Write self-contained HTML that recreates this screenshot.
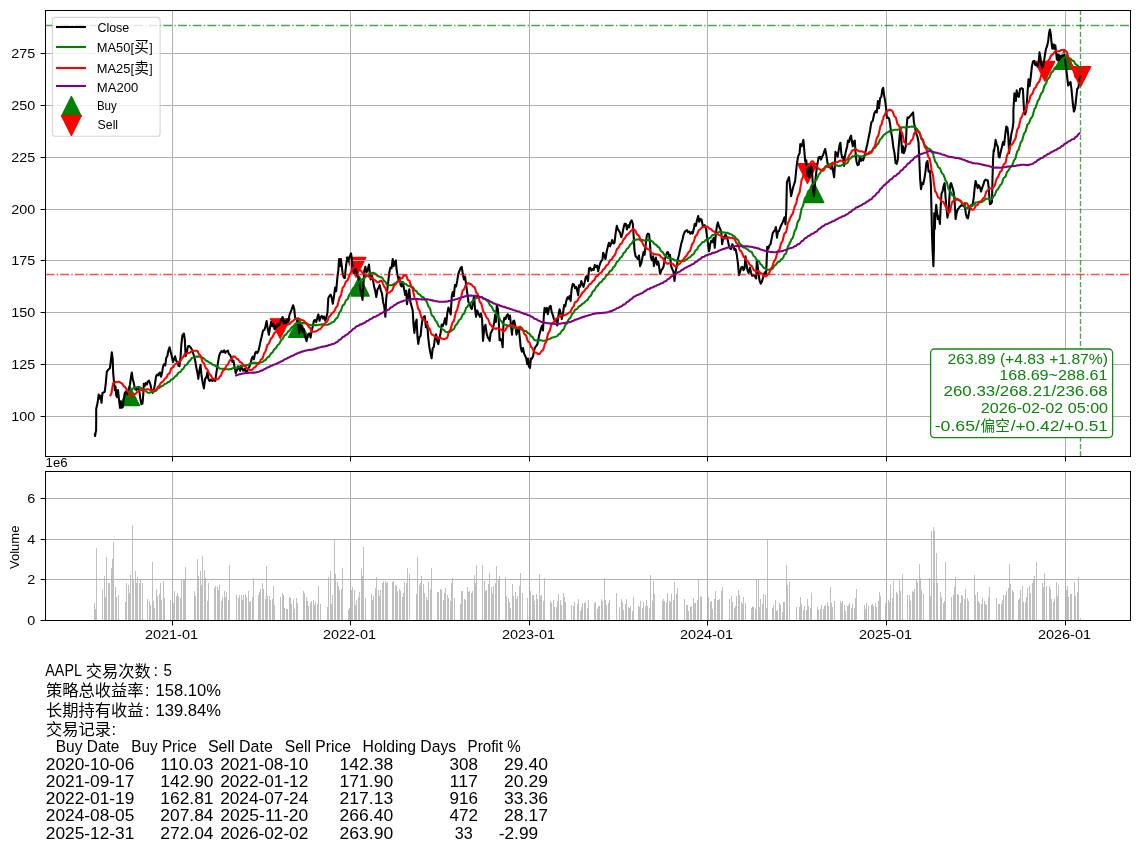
<!DOCTYPE html>
<html><head><meta charset="utf-8"><title>AAPL MA strategy</title>
<style>html,body{margin:0;padding:0;background:#fff}body{width:1139px;height:852px;overflow:hidden;font-family:'Liberation Sans', 'Noto Sans CJK SC', sans-serif}svg text{font-family:'Liberation Sans', 'Noto Sans CJK SC', sans-serif}</style>
</head><body>
<svg width="1139" height="852" viewBox="0 0 1139 852" style="will-change:transform;display:block;font-family:'Liberation Sans', 'Noto Sans CJK SC', sans-serif">
<rect width="1139" height="852" fill="#fff"/>
<g id="markers">
<path d="M129.70 385.96 L119.88 405.60 L139.52 405.60Z" fill="#008000" stroke="#008000" stroke-width="1.39" stroke-linejoin="round"/>
<path d="M298.45 317.75 L288.63 337.39 L308.27 337.39Z" fill="#008000" stroke="#008000" stroke-width="1.39" stroke-linejoin="round"/>
<path d="M359.42 276.42 L349.60 296.06 L369.24 296.06Z" fill="#008000" stroke="#008000" stroke-width="1.39" stroke-linejoin="round"/>
<path d="M813.97 182.97 L804.15 202.61 L823.79 202.61Z" fill="#008000" stroke="#008000" stroke-width="1.39" stroke-linejoin="round"/>
<path d="M1064.64 49.73 L1054.82 69.37 L1074.46 69.37Z" fill="#008000" stroke="#008000" stroke-width="1.39" stroke-linejoin="round"/>
<path d="M270.43 318.82 L290.07 318.82 L280.25 338.46Z" fill="#ff0000" stroke="#ff0000" stroke-width="1.39" stroke-linejoin="round"/>
<path d="M346.18 257.56 L365.82 257.56 L356.00 277.20Z" fill="#ff0000" stroke="#ff0000" stroke-width="1.39" stroke-linejoin="round"/>
<path d="M797.68 163.69 L817.32 163.69 L807.50 183.33Z" fill="#ff0000" stroke="#ff0000" stroke-width="1.39" stroke-linejoin="round"/>
<path d="M1035.08 61.43 L1054.72 61.43 L1044.90 81.07Z" fill="#ff0000" stroke="#ff0000" stroke-width="1.39" stroke-linejoin="round"/>
<path d="M1071.08 66.62 L1090.72 66.62 L1080.90 86.26Z" fill="#ff0000" stroke="#ff0000" stroke-width="1.39" stroke-linejoin="round"/>
</g>
<g fill="#b0b0b0" shape-rendering="crispEdges">
<rect x="172" y="11" width="1" height="445"/>
<rect x="350" y="11" width="1" height="445"/>
<rect x="529" y="11" width="1" height="445"/>
<rect x="707" y="11" width="1" height="445"/>
<rect x="886" y="11" width="1" height="445"/>
<rect x="1065" y="11" width="1" height="445"/>
<rect x="46" y="53" width="1084" height="1"/>
<rect x="46" y="105" width="1084" height="1"/>
<rect x="46" y="157" width="1084" height="1"/>
<rect x="46" y="209" width="1084" height="1"/>
<rect x="46" y="260" width="1084" height="1"/>
<rect x="46" y="312" width="1084" height="1"/>
<rect x="46" y="364" width="1084" height="1"/>
<rect x="46" y="416" width="1084" height="1"/>
</g>
<g fill="#bfbfbf" shape-rendering="crispEdges">
<rect x="94" y="603" width="1" height="17"/>
<rect x="95" y="609" width="1" height="11"/>
<rect x="96" y="548" width="1" height="72"/>
<rect x="102" y="590" width="1" height="30"/>
<rect x="104" y="576" width="1" height="44"/>
<rect x="105" y="597" width="1" height="23"/>
<rect x="106" y="557" width="1" height="63"/>
<rect x="108" y="583" width="1" height="37"/>
<rect x="109" y="583" width="1" height="37"/>
<rect x="111" y="568" width="1" height="52"/>
<rect x="112" y="559" width="1" height="61"/>
<rect x="113" y="542" width="1" height="78"/>
<rect x="115" y="587" width="1" height="33"/>
<rect x="116" y="597" width="1" height="23"/>
<rect x="118" y="595" width="1" height="25"/>
<rect x="125" y="602" width="1" height="18"/>
<rect x="126" y="583" width="1" height="37"/>
<rect x="128" y="585" width="1" height="35"/>
<rect x="129" y="593" width="1" height="27"/>
<rect x="130" y="575" width="1" height="45"/>
<rect x="132" y="525" width="1" height="95"/>
<rect x="133" y="580" width="1" height="40"/>
<rect x="135" y="571" width="1" height="49"/>
<rect x="136" y="583" width="1" height="37"/>
<rect x="137" y="577" width="1" height="43"/>
<rect x="139" y="583" width="1" height="37"/>
<rect x="140" y="580" width="1" height="40"/>
<rect x="142" y="583" width="1" height="37"/>
<rect x="147" y="599" width="1" height="21"/>
<rect x="149" y="601" width="1" height="19"/>
<rect x="150" y="605" width="1" height="15"/>
<rect x="152" y="562" width="1" height="58"/>
<rect x="153" y="601" width="1" height="19"/>
<rect x="154" y="608" width="1" height="12"/>
<rect x="156" y="589" width="1" height="31"/>
<rect x="157" y="596" width="1" height="24"/>
<rect x="159" y="594" width="1" height="26"/>
<rect x="160" y="583" width="1" height="37"/>
<rect x="161" y="600" width="1" height="20"/>
<rect x="163" y="581" width="1" height="39"/>
<rect x="164" y="598" width="1" height="22"/>
<rect x="170" y="600" width="1" height="20"/>
<rect x="173" y="603" width="1" height="17"/>
<rect x="174" y="591" width="1" height="29"/>
<rect x="176" y="596" width="1" height="24"/>
<rect x="177" y="593" width="1" height="27"/>
<rect x="178" y="596" width="1" height="24"/>
<rect x="180" y="598" width="1" height="22"/>
<rect x="181" y="580" width="1" height="40"/>
<rect x="183" y="580" width="1" height="40"/>
<rect x="184" y="580" width="1" height="40"/>
<rect x="185" y="567" width="1" height="53"/>
<rect x="194" y="591" width="1" height="29"/>
<rect x="195" y="596" width="1" height="24"/>
<rect x="197" y="559" width="1" height="61"/>
<rect x="198" y="576" width="1" height="44"/>
<rect x="200" y="571" width="1" height="49"/>
<rect x="201" y="585" width="1" height="35"/>
<rect x="202" y="556" width="1" height="64"/>
<rect x="204" y="570" width="1" height="50"/>
<rect x="205" y="578" width="1" height="42"/>
<rect x="207" y="601" width="1" height="19"/>
<rect x="208" y="583" width="1" height="37"/>
<rect x="214" y="588" width="1" height="32"/>
<rect x="215" y="586" width="1" height="34"/>
<rect x="217" y="587" width="1" height="33"/>
<rect x="218" y="590" width="1" height="30"/>
<rect x="219" y="585" width="1" height="35"/>
<rect x="221" y="601" width="1" height="19"/>
<rect x="222" y="597" width="1" height="23"/>
<rect x="224" y="591" width="1" height="29"/>
<rect x="225" y="597" width="1" height="23"/>
<rect x="226" y="592" width="1" height="28"/>
<rect x="228" y="600" width="1" height="20"/>
<rect x="229" y="565" width="1" height="55"/>
<rect x="236" y="595" width="1" height="25"/>
<rect x="238" y="598" width="1" height="22"/>
<rect x="239" y="595" width="1" height="25"/>
<rect x="241" y="595" width="1" height="25"/>
<rect x="242" y="600" width="1" height="20"/>
<rect x="243" y="595" width="1" height="25"/>
<rect x="245" y="594" width="1" height="26"/>
<rect x="246" y="597" width="1" height="23"/>
<rect x="248" y="591" width="1" height="29"/>
<rect x="249" y="602" width="1" height="18"/>
<rect x="250" y="601" width="1" height="19"/>
<rect x="252" y="597" width="1" height="23"/>
<rect x="253" y="578" width="1" height="42"/>
<rect x="258" y="595" width="1" height="25"/>
<rect x="259" y="592" width="1" height="28"/>
<rect x="260" y="589" width="1" height="31"/>
<rect x="262" y="583" width="1" height="37"/>
<rect x="263" y="589" width="1" height="31"/>
<rect x="265" y="599" width="1" height="21"/>
<rect x="266" y="566" width="1" height="54"/>
<rect x="267" y="596" width="1" height="24"/>
<rect x="269" y="596" width="1" height="24"/>
<rect x="270" y="600" width="1" height="20"/>
<rect x="272" y="599" width="1" height="21"/>
<rect x="273" y="586" width="1" height="34"/>
<rect x="274" y="605" width="1" height="15"/>
<rect x="280" y="597" width="1" height="23"/>
<rect x="282" y="593" width="1" height="27"/>
<rect x="283" y="595" width="1" height="25"/>
<rect x="284" y="608" width="1" height="12"/>
<rect x="286" y="609" width="1" height="11"/>
<rect x="287" y="609" width="1" height="11"/>
<rect x="289" y="597" width="1" height="23"/>
<rect x="290" y="598" width="1" height="22"/>
<rect x="291" y="604" width="1" height="16"/>
<rect x="293" y="599" width="1" height="21"/>
<rect x="294" y="609" width="1" height="11"/>
<rect x="296" y="598" width="1" height="22"/>
<rect x="297" y="603" width="1" height="17"/>
<rect x="303" y="591" width="1" height="29"/>
<rect x="304" y="593" width="1" height="27"/>
<rect x="306" y="597" width="1" height="23"/>
<rect x="307" y="601" width="1" height="19"/>
<rect x="308" y="606" width="1" height="14"/>
<rect x="310" y="603" width="1" height="17"/>
<rect x="311" y="601" width="1" height="19"/>
<rect x="313" y="600" width="1" height="20"/>
<rect x="314" y="605" width="1" height="15"/>
<rect x="315" y="602" width="1" height="18"/>
<rect x="317" y="604" width="1" height="16"/>
<rect x="318" y="586" width="1" height="34"/>
<rect x="320" y="604" width="1" height="16"/>
<rect x="327" y="607" width="1" height="13"/>
<rect x="328" y="577" width="1" height="43"/>
<rect x="330" y="571" width="1" height="49"/>
<rect x="331" y="604" width="1" height="16"/>
<rect x="332" y="595" width="1" height="25"/>
<rect x="334" y="539" width="1" height="81"/>
<rect x="335" y="574" width="1" height="46"/>
<rect x="337" y="582" width="1" height="38"/>
<rect x="338" y="586" width="1" height="34"/>
<rect x="339" y="590" width="1" height="30"/>
<rect x="341" y="589" width="1" height="31"/>
<rect x="342" y="568" width="1" height="52"/>
<rect x="348" y="610" width="1" height="10"/>
<rect x="349" y="608" width="1" height="12"/>
<rect x="350" y="606" width="1" height="14"/>
<rect x="351" y="590" width="1" height="30"/>
<rect x="352" y="587" width="1" height="33"/>
<rect x="354" y="590" width="1" height="30"/>
<rect x="355" y="605" width="1" height="15"/>
<rect x="356" y="600" width="1" height="20"/>
<rect x="358" y="597" width="1" height="23"/>
<rect x="359" y="592" width="1" height="28"/>
<rect x="361" y="569" width="1" height="51"/>
<rect x="362" y="576" width="1" height="44"/>
<rect x="363" y="547" width="1" height="73"/>
<rect x="365" y="598" width="1" height="22"/>
<rect x="371" y="594" width="1" height="26"/>
<rect x="372" y="600" width="1" height="20"/>
<rect x="373" y="596" width="1" height="24"/>
<rect x="375" y="588" width="1" height="32"/>
<rect x="376" y="577" width="1" height="43"/>
<rect x="378" y="590" width="1" height="30"/>
<rect x="379" y="596" width="1" height="24"/>
<rect x="380" y="590" width="1" height="30"/>
<rect x="382" y="583" width="1" height="37"/>
<rect x="383" y="581" width="1" height="39"/>
<rect x="385" y="581" width="1" height="39"/>
<rect x="386" y="583" width="1" height="37"/>
<rect x="387" y="582" width="1" height="38"/>
<rect x="392" y="582" width="1" height="38"/>
<rect x="393" y="581" width="1" height="39"/>
<rect x="395" y="585" width="1" height="35"/>
<rect x="396" y="586" width="1" height="34"/>
<rect x="397" y="591" width="1" height="29"/>
<rect x="399" y="589" width="1" height="31"/>
<rect x="400" y="591" width="1" height="29"/>
<rect x="402" y="597" width="1" height="23"/>
<rect x="403" y="593" width="1" height="27"/>
<rect x="404" y="582" width="1" height="38"/>
<rect x="406" y="583" width="1" height="37"/>
<rect x="407" y="568" width="1" height="52"/>
<rect x="409" y="574" width="1" height="46"/>
<rect x="416" y="594" width="1" height="26"/>
<rect x="417" y="557" width="1" height="63"/>
<rect x="419" y="585" width="1" height="35"/>
<rect x="420" y="583" width="1" height="37"/>
<rect x="421" y="576" width="1" height="44"/>
<rect x="423" y="584" width="1" height="36"/>
<rect x="424" y="593" width="1" height="27"/>
<rect x="426" y="597" width="1" height="23"/>
<rect x="427" y="600" width="1" height="20"/>
<rect x="428" y="582" width="1" height="38"/>
<rect x="430" y="589" width="1" height="31"/>
<rect x="431" y="568" width="1" height="52"/>
<rect x="437" y="592" width="1" height="28"/>
<rect x="438" y="592" width="1" height="28"/>
<rect x="440" y="589" width="1" height="31"/>
<rect x="441" y="590" width="1" height="30"/>
<rect x="443" y="600" width="1" height="20"/>
<rect x="444" y="593" width="1" height="27"/>
<rect x="445" y="588" width="1" height="32"/>
<rect x="447" y="595" width="1" height="25"/>
<rect x="448" y="598" width="1" height="22"/>
<rect x="450" y="601" width="1" height="19"/>
<rect x="451" y="583" width="1" height="37"/>
<rect x="452" y="578" width="1" height="42"/>
<rect x="454" y="598" width="1" height="22"/>
<rect x="460" y="604" width="1" height="16"/>
<rect x="461" y="591" width="1" height="29"/>
<rect x="462" y="591" width="1" height="29"/>
<rect x="464" y="599" width="1" height="21"/>
<rect x="465" y="600" width="1" height="20"/>
<rect x="467" y="587" width="1" height="33"/>
<rect x="468" y="592" width="1" height="28"/>
<rect x="469" y="591" width="1" height="29"/>
<rect x="471" y="593" width="1" height="27"/>
<rect x="472" y="591" width="1" height="29"/>
<rect x="474" y="575" width="1" height="45"/>
<rect x="475" y="583" width="1" height="37"/>
<rect x="476" y="565" width="1" height="55"/>
<rect x="482" y="565" width="1" height="55"/>
<rect x="484" y="581" width="1" height="39"/>
<rect x="485" y="591" width="1" height="29"/>
<rect x="486" y="590" width="1" height="30"/>
<rect x="488" y="584" width="1" height="36"/>
<rect x="489" y="573" width="1" height="47"/>
<rect x="491" y="587" width="1" height="33"/>
<rect x="492" y="594" width="1" height="26"/>
<rect x="493" y="586" width="1" height="34"/>
<rect x="495" y="583" width="1" height="37"/>
<rect x="496" y="566" width="1" height="54"/>
<rect x="498" y="580" width="1" height="40"/>
<rect x="499" y="576" width="1" height="44"/>
<rect x="505" y="577" width="1" height="43"/>
<rect x="506" y="596" width="1" height="24"/>
<rect x="508" y="598" width="1" height="22"/>
<rect x="509" y="602" width="1" height="18"/>
<rect x="510" y="608" width="1" height="12"/>
<rect x="512" y="584" width="1" height="36"/>
<rect x="513" y="596" width="1" height="24"/>
<rect x="515" y="592" width="1" height="28"/>
<rect x="516" y="599" width="1" height="21"/>
<rect x="517" y="596" width="1" height="24"/>
<rect x="519" y="586" width="1" height="34"/>
<rect x="520" y="573" width="1" height="47"/>
<rect x="522" y="593" width="1" height="27"/>
<rect x="527" y="598" width="1" height="22"/>
<rect x="529" y="596" width="1" height="24"/>
<rect x="530" y="591" width="1" height="29"/>
<rect x="532" y="595" width="1" height="25"/>
<rect x="533" y="595" width="1" height="25"/>
<rect x="534" y="601" width="1" height="19"/>
<rect x="536" y="594" width="1" height="26"/>
<rect x="537" y="599" width="1" height="21"/>
<rect x="539" y="574" width="1" height="46"/>
<rect x="540" y="596" width="1" height="24"/>
<rect x="541" y="595" width="1" height="25"/>
<rect x="543" y="601" width="1" height="19"/>
<rect x="544" y="578" width="1" height="42"/>
<rect x="550" y="601" width="1" height="19"/>
<rect x="551" y="603" width="1" height="17"/>
<rect x="553" y="600" width="1" height="20"/>
<rect x="554" y="607" width="1" height="13"/>
<rect x="556" y="607" width="1" height="13"/>
<rect x="557" y="601" width="1" height="19"/>
<rect x="558" y="594" width="1" height="26"/>
<rect x="560" y="600" width="1" height="20"/>
<rect x="561" y="605" width="1" height="15"/>
<rect x="563" y="593" width="1" height="27"/>
<rect x="564" y="597" width="1" height="23"/>
<rect x="565" y="602" width="1" height="18"/>
<rect x="571" y="605" width="1" height="15"/>
<rect x="573" y="606" width="1" height="14"/>
<rect x="574" y="602" width="1" height="18"/>
<rect x="577" y="604" width="1" height="16"/>
<rect x="578" y="599" width="1" height="21"/>
<rect x="580" y="611" width="1" height="9"/>
<rect x="581" y="607" width="1" height="13"/>
<rect x="582" y="603" width="1" height="17"/>
<rect x="584" y="603" width="1" height="17"/>
<rect x="585" y="602" width="1" height="18"/>
<rect x="587" y="608" width="1" height="12"/>
<rect x="588" y="600" width="1" height="20"/>
<rect x="594" y="603" width="1" height="17"/>
<rect x="595" y="602" width="1" height="18"/>
<rect x="597" y="609" width="1" height="11"/>
<rect x="598" y="606" width="1" height="14"/>
<rect x="599" y="606" width="1" height="14"/>
<rect x="601" y="599" width="1" height="21"/>
<rect x="602" y="601" width="1" height="19"/>
<rect x="604" y="578" width="1" height="42"/>
<rect x="605" y="600" width="1" height="20"/>
<rect x="606" y="605" width="1" height="15"/>
<rect x="608" y="603" width="1" height="17"/>
<rect x="609" y="600" width="1" height="20"/>
<rect x="616" y="593" width="1" height="27"/>
<rect x="619" y="607" width="1" height="13"/>
<rect x="621" y="599" width="1" height="21"/>
<rect x="622" y="602" width="1" height="18"/>
<rect x="623" y="610" width="1" height="10"/>
<rect x="625" y="604" width="1" height="16"/>
<rect x="626" y="599" width="1" height="21"/>
<rect x="628" y="607" width="1" height="13"/>
<rect x="629" y="608" width="1" height="12"/>
<rect x="630" y="606" width="1" height="14"/>
<rect x="632" y="611" width="1" height="9"/>
<rect x="633" y="597" width="1" height="23"/>
<rect x="638" y="606" width="1" height="14"/>
<rect x="639" y="607" width="1" height="13"/>
<rect x="640" y="601" width="1" height="19"/>
<rect x="642" y="608" width="1" height="12"/>
<rect x="643" y="602" width="1" height="18"/>
<rect x="645" y="606" width="1" height="14"/>
<rect x="646" y="600" width="1" height="20"/>
<rect x="647" y="606" width="1" height="14"/>
<rect x="649" y="608" width="1" height="12"/>
<rect x="650" y="575" width="1" height="45"/>
<rect x="652" y="601" width="1" height="19"/>
<rect x="653" y="581" width="1" height="39"/>
<rect x="654" y="594" width="1" height="26"/>
<rect x="662" y="601" width="1" height="19"/>
<rect x="663" y="599" width="1" height="21"/>
<rect x="664" y="601" width="1" height="19"/>
<rect x="666" y="602" width="1" height="18"/>
<rect x="667" y="593" width="1" height="27"/>
<rect x="669" y="601" width="1" height="19"/>
<rect x="670" y="602" width="1" height="18"/>
<rect x="671" y="594" width="1" height="26"/>
<rect x="673" y="600" width="1" height="20"/>
<rect x="674" y="582" width="1" height="38"/>
<rect x="676" y="594" width="1" height="26"/>
<rect x="677" y="588" width="1" height="32"/>
<rect x="684" y="599" width="1" height="21"/>
<rect x="686" y="605" width="1" height="15"/>
<rect x="687" y="605" width="1" height="15"/>
<rect x="688" y="611" width="1" height="9"/>
<rect x="690" y="607" width="1" height="13"/>
<rect x="691" y="606" width="1" height="14"/>
<rect x="693" y="598" width="1" height="22"/>
<rect x="694" y="603" width="1" height="17"/>
<rect x="695" y="603" width="1" height="17"/>
<rect x="697" y="600" width="1" height="20"/>
<rect x="698" y="580" width="1" height="40"/>
<rect x="700" y="596" width="1" height="24"/>
<rect x="701" y="597" width="1" height="23"/>
<rect x="707" y="598" width="1" height="22"/>
<rect x="708" y="597" width="1" height="23"/>
<rect x="710" y="602" width="1" height="18"/>
<rect x="711" y="601" width="1" height="19"/>
<rect x="712" y="609" width="1" height="11"/>
<rect x="714" y="599" width="1" height="21"/>
<rect x="715" y="591" width="1" height="29"/>
<rect x="717" y="600" width="1" height="20"/>
<rect x="718" y="600" width="1" height="20"/>
<rect x="719" y="599" width="1" height="21"/>
<rect x="721" y="591" width="1" height="29"/>
<rect x="722" y="587" width="1" height="33"/>
<rect x="729" y="599" width="1" height="21"/>
<rect x="731" y="596" width="1" height="24"/>
<rect x="732" y="602" width="1" height="18"/>
<rect x="734" y="608" width="1" height="12"/>
<rect x="735" y="606" width="1" height="14"/>
<rect x="736" y="596" width="1" height="24"/>
<rect x="738" y="590" width="1" height="30"/>
<rect x="739" y="595" width="1" height="25"/>
<rect x="741" y="602" width="1" height="18"/>
<rect x="742" y="604" width="1" height="16"/>
<rect x="743" y="597" width="1" height="23"/>
<rect x="745" y="603" width="1" height="17"/>
<rect x="751" y="608" width="1" height="12"/>
<rect x="752" y="606" width="1" height="14"/>
<rect x="753" y="607" width="1" height="13"/>
<rect x="755" y="609" width="1" height="11"/>
<rect x="756" y="580" width="1" height="40"/>
<rect x="758" y="580" width="1" height="40"/>
<rect x="759" y="607" width="1" height="13"/>
<rect x="760" y="599" width="1" height="21"/>
<rect x="762" y="604" width="1" height="16"/>
<rect x="763" y="594" width="1" height="26"/>
<rect x="765" y="595" width="1" height="25"/>
<rect x="766" y="608" width="1" height="12"/>
<rect x="767" y="539" width="1" height="81"/>
<rect x="772" y="608" width="1" height="12"/>
<rect x="773" y="605" width="1" height="15"/>
<rect x="775" y="600" width="1" height="20"/>
<rect x="776" y="611" width="1" height="9"/>
<rect x="777" y="610" width="1" height="10"/>
<rect x="779" y="603" width="1" height="17"/>
<rect x="780" y="605" width="1" height="15"/>
<rect x="782" y="612" width="1" height="8"/>
<rect x="783" y="602" width="1" height="18"/>
<rect x="784" y="602" width="1" height="18"/>
<rect x="786" y="565" width="1" height="55"/>
<rect x="787" y="585" width="1" height="35"/>
<rect x="789" y="582" width="1" height="38"/>
<rect x="796" y="607" width="1" height="13"/>
<rect x="799" y="607" width="1" height="13"/>
<rect x="800" y="597" width="1" height="23"/>
<rect x="801" y="604" width="1" height="16"/>
<rect x="803" y="610" width="1" height="10"/>
<rect x="804" y="606" width="1" height="14"/>
<rect x="806" y="610" width="1" height="10"/>
<rect x="807" y="599" width="1" height="21"/>
<rect x="808" y="606" width="1" height="14"/>
<rect x="810" y="608" width="1" height="12"/>
<rect x="811" y="593" width="1" height="27"/>
<rect x="817" y="607" width="1" height="13"/>
<rect x="818" y="610" width="1" height="10"/>
<rect x="820" y="609" width="1" height="11"/>
<rect x="821" y="605" width="1" height="15"/>
<rect x="823" y="609" width="1" height="11"/>
<rect x="824" y="606" width="1" height="14"/>
<rect x="825" y="605" width="1" height="15"/>
<rect x="827" y="602" width="1" height="18"/>
<rect x="828" y="606" width="1" height="14"/>
<rect x="830" y="587" width="1" height="33"/>
<rect x="831" y="603" width="1" height="17"/>
<rect x="832" y="607" width="1" height="13"/>
<rect x="834" y="601" width="1" height="19"/>
<rect x="840" y="601" width="1" height="19"/>
<rect x="841" y="603" width="1" height="17"/>
<rect x="842" y="601" width="1" height="19"/>
<rect x="844" y="605" width="1" height="15"/>
<rect x="845" y="611" width="1" height="9"/>
<rect x="847" y="606" width="1" height="14"/>
<rect x="848" y="605" width="1" height="15"/>
<rect x="849" y="603" width="1" height="17"/>
<rect x="851" y="608" width="1" height="12"/>
<rect x="852" y="604" width="1" height="16"/>
<rect x="854" y="608" width="1" height="12"/>
<rect x="855" y="598" width="1" height="22"/>
<rect x="856" y="589" width="1" height="31"/>
<rect x="864" y="605" width="1" height="15"/>
<rect x="865" y="609" width="1" height="11"/>
<rect x="866" y="603" width="1" height="17"/>
<rect x="868" y="606" width="1" height="14"/>
<rect x="871" y="605" width="1" height="15"/>
<rect x="872" y="604" width="1" height="16"/>
<rect x="873" y="606" width="1" height="14"/>
<rect x="875" y="603" width="1" height="17"/>
<rect x="876" y="607" width="1" height="13"/>
<rect x="878" y="601" width="1" height="19"/>
<rect x="879" y="592" width="1" height="28"/>
<rect x="880" y="596" width="1" height="24"/>
<rect x="885" y="603" width="1" height="17"/>
<rect x="886" y="600" width="1" height="20"/>
<rect x="888" y="600" width="1" height="20"/>
<rect x="889" y="602" width="1" height="18"/>
<rect x="890" y="585" width="1" height="35"/>
<rect x="892" y="598" width="1" height="22"/>
<rect x="893" y="581" width="1" height="39"/>
<rect x="896" y="592" width="1" height="28"/>
<rect x="897" y="594" width="1" height="26"/>
<rect x="899" y="580" width="1" height="40"/>
<rect x="900" y="591" width="1" height="29"/>
<rect x="902" y="574" width="1" height="46"/>
<rect x="907" y="595" width="1" height="25"/>
<rect x="909" y="595" width="1" height="25"/>
<rect x="910" y="601" width="1" height="19"/>
<rect x="912" y="591" width="1" height="29"/>
<rect x="913" y="592" width="1" height="28"/>
<rect x="914" y="589" width="1" height="31"/>
<rect x="916" y="580" width="1" height="40"/>
<rect x="917" y="582" width="1" height="38"/>
<rect x="919" y="564" width="1" height="56"/>
<rect x="920" y="578" width="1" height="42"/>
<rect x="921" y="590" width="1" height="30"/>
<rect x="923" y="594" width="1" height="26"/>
<rect x="929" y="578" width="1" height="42"/>
<rect x="930" y="596" width="1" height="24"/>
<rect x="931" y="531" width="1" height="89"/>
<rect x="933" y="527" width="1" height="93"/>
<rect x="934" y="531" width="1" height="89"/>
<rect x="936" y="553" width="1" height="67"/>
<rect x="937" y="583" width="1" height="37"/>
<rect x="940" y="592" width="1" height="28"/>
<rect x="941" y="597" width="1" height="23"/>
<rect x="943" y="603" width="1" height="17"/>
<rect x="944" y="601" width="1" height="19"/>
<rect x="945" y="562" width="1" height="58"/>
<rect x="951" y="597" width="1" height="23"/>
<rect x="953" y="595" width="1" height="25"/>
<rect x="954" y="587" width="1" height="33"/>
<rect x="955" y="577" width="1" height="43"/>
<rect x="957" y="594" width="1" height="26"/>
<rect x="958" y="595" width="1" height="25"/>
<rect x="960" y="603" width="1" height="17"/>
<rect x="961" y="595" width="1" height="25"/>
<rect x="962" y="596" width="1" height="24"/>
<rect x="964" y="599" width="1" height="21"/>
<rect x="965" y="589" width="1" height="31"/>
<rect x="967" y="598" width="1" height="22"/>
<rect x="968" y="601" width="1" height="19"/>
<rect x="974" y="575" width="1" height="45"/>
<rect x="975" y="595" width="1" height="25"/>
<rect x="977" y="592" width="1" height="28"/>
<rect x="978" y="601" width="1" height="19"/>
<rect x="979" y="603" width="1" height="17"/>
<rect x="981" y="604" width="1" height="16"/>
<rect x="982" y="598" width="1" height="22"/>
<rect x="984" y="601" width="1" height="19"/>
<rect x="985" y="604" width="1" height="16"/>
<rect x="986" y="605" width="1" height="15"/>
<rect x="988" y="597" width="1" height="23"/>
<rect x="989" y="587" width="1" height="33"/>
<rect x="996" y="598" width="1" height="22"/>
<rect x="998" y="604" width="1" height="16"/>
<rect x="999" y="604" width="1" height="16"/>
<rect x="1001" y="604" width="1" height="16"/>
<rect x="1002" y="600" width="1" height="20"/>
<rect x="1003" y="595" width="1" height="25"/>
<rect x="1005" y="595" width="1" height="25"/>
<rect x="1006" y="591" width="1" height="29"/>
<rect x="1008" y="588" width="1" height="32"/>
<rect x="1009" y="564" width="1" height="56"/>
<rect x="1010" y="584" width="1" height="36"/>
<rect x="1012" y="590" width="1" height="30"/>
<rect x="1013" y="592" width="1" height="28"/>
<rect x="1018" y="600" width="1" height="20"/>
<rect x="1019" y="598" width="1" height="22"/>
<rect x="1020" y="590" width="1" height="30"/>
<rect x="1022" y="586" width="1" height="34"/>
<rect x="1023" y="602" width="1" height="18"/>
<rect x="1025" y="602" width="1" height="18"/>
<rect x="1026" y="597" width="1" height="23"/>
<rect x="1027" y="588" width="1" height="32"/>
<rect x="1029" y="586" width="1" height="34"/>
<rect x="1030" y="593" width="1" height="27"/>
<rect x="1032" y="583" width="1" height="37"/>
<rect x="1033" y="580" width="1" height="40"/>
<rect x="1034" y="576" width="1" height="44"/>
<rect x="1036" y="562" width="1" height="58"/>
<rect x="1042" y="583" width="1" height="37"/>
<rect x="1043" y="587" width="1" height="33"/>
<rect x="1044" y="573" width="1" height="47"/>
<rect x="1046" y="586" width="1" height="34"/>
<rect x="1049" y="586" width="1" height="34"/>
<rect x="1050" y="589" width="1" height="31"/>
<rect x="1051" y="599" width="1" height="21"/>
<rect x="1053" y="602" width="1" height="18"/>
<rect x="1054" y="599" width="1" height="21"/>
<rect x="1056" y="582" width="1" height="38"/>
<rect x="1057" y="596" width="1" height="24"/>
<rect x="1058" y="585" width="1" height="35"/>
<rect x="1065" y="590" width="1" height="30"/>
<rect x="1066" y="590" width="1" height="30"/>
<rect x="1067" y="586" width="1" height="34"/>
<rect x="1068" y="597" width="1" height="23"/>
<rect x="1070" y="594" width="1" height="26"/>
<rect x="1071" y="594" width="1" height="26"/>
<rect x="1074" y="582" width="1" height="38"/>
<rect x="1075" y="596" width="1" height="24"/>
<rect x="1077" y="592" width="1" height="28"/>
<rect x="1078" y="577" width="1" height="43"/>
<rect x="1080" y="618" width="1" height="2"/>
</g>
<g fill="#b0b0b0" shape-rendering="crispEdges">
<rect x="172" y="472" width="1" height="148"/>
<rect x="350" y="472" width="1" height="148"/>
<rect x="529" y="472" width="1" height="148"/>
<rect x="707" y="472" width="1" height="148"/>
<rect x="886" y="472" width="1" height="148"/>
<rect x="1065" y="472" width="1" height="148"/>
<rect x="46" y="498" width="1084" height="1"/>
<rect x="46" y="539" width="1084" height="1"/>
<rect x="46" y="579" width="1084" height="1"/>
</g>
<clipPath id="ct"><rect x="45.5" y="10.5" width="1085.0" height="446.0"/></clipPath>
<g clip-path="url(#ct)">
<path d="M94.7 433L95.1 436L95.6 432.5L96.1 430.5L96.2 420L96.2 409.1L97.6 402.8L98.7 394.6L99.7 398.6L100.7 395.8L101.5 402.8L102.5 393L104.7 391.8L105.8 383.1L106.8 371.8L108.2 369.7L109.9 368.3L110.7 362L111.8 352.4L112.7 359.1L113.2 373.2L114.1 383.1L114.9 390.1L115.5 386.6L116.3 395.8L117.2 397.2L118 390.1L118.9 398.6L120 407.8L120.8 401.4L121.7 407.8L122.8 407L123.9 398.6L124.8 393L125.8 391.6L127.2 394.4L128.6 390.1L130 384.5L131 376.8L131.8 372.5L132.7 378.9L133.8 383.1L134.9 388.7L136.3 390.1L137.8 387.3L139.2 390.1L140.3 398.6L141.4 404.2L142.5 403.5L143.4 393L143.8 383.8L144.8 385.9L145.6 383.1L146.9 384.5L147.6 381.7L149 380.6L150.4 384.5L151.6 390.1L152.7 393L153.8 390.1L154.9 384.5L156.1 376.1L157.2 374.6L158.3 375.4L159.2 373.2L160 372.5L161 376.8L162 373.2L163.1 366.2L164.2 364.1L165.3 365.5L166.2 357.8L167.3 356.3L168.4 350.7L169.6 347.2L170.7 352.1L171.8 356.3L173 362L174.1 359.1L175.1 356.3L176.1 360.6L177.2 362L178.3 365.5L179.4 366.2L180.6 356.3L181.4 343.7L182.5 335.2L183.9 333.5L184.8 339.4L185.6 356.3L186.8 352.1L187.9 346.5L189 345.8L190.4 347.2L191.8 349.3L193 352.8L194.1 356.3L195.2 360.6L196.3 367.6L197.5 373.2L198.3 378.9L199.4 370.4L200.6 364.8L201.4 374.6L202.5 381.7L203.9 388.4L205.1 378.9L206.5 376.8L207.6 371.8L208.4 378.9L209.6 381L211 379.6L212.4 381L213.8 379.6L215.2 381L216.1 374.6L217.2 367.6L218.3 360.6L219.2 355.6L220.3 352.8L221.7 351L223.1 352.1L224.2 350.4L225.3 352.8L226.5 351.4L227.9 350.7L229 354.2L230.1 354.9L231.3 357.8L232.4 362L233.5 360.6L234.7 367.6L235.8 373.2L236.9 370.4L238 366.2L239.2 369L240 367.6L240.1 370.7L241 365.8L242.1 368.6L243.2 370.7L244.7 368.6L245.8 372.1L246.9 372.8L248 368.6L249.2 367.2L250.6 363L251.7 358.7L252.8 356.6L253.9 359.4L255.1 353.1L256.2 351.7L257.3 353.1L258.4 351L259.6 346.1L260.7 340.4L261.8 336.2L263 330.6L264.4 329.9L265.5 326.3L266.6 321L267.8 329.1L268.9 334.8L270 327.8L271.1 322.1L272.2 326.3L273.4 323.5L274.5 329.1L275.6 326.3L276.8 327.8L277.9 323.5L279 325.6L280.1 322.8L281.3 319.3L282.7 317.2L283.8 323.5L284.9 320.7L286.1 323.5L287.2 319.3L288.3 322.1L289.4 315.1L290.6 312.2L291.7 309.4L293.1 305.2L294.2 308.7L295.1 317.9L296.2 318.6L297.3 320.7L298.4 326.3L299.3 333.4L300.4 324.9L301.6 326.3L302.7 332L303.8 329.1L304.9 336.2L306.6 341.1L307.8 334.8L309.1 333.4L310.6 337.6L311.7 330.6L312.8 326.3L313.9 320.7L315.1 320L316.2 322.1L317.3 317.9L318.4 314.4L319.6 320.7L320.7 317.2L321.8 315.8L323 318.6L324.1 316.5L325.2 320.7L326.3 317.9L327.5 312.2L328.3 298.2L329.4 296.1L330.6 294.6L331.7 297.5L332.8 303.8L333.9 296.8L335.1 287.6L336.2 291.1L337.3 278.4L338.4 270L338.5 267.5L339.1 259L340 266.1L340.9 259L341.7 265.4L342.5 272.4L343.7 277.3L344.8 278L345.6 269.6L346.5 262.5L347.3 257.6L348.4 261.1L349.6 256.9L351 253.4L351.8 258.3L352.7 268.2L353.5 273.1L354.6 269.6L355.8 268.9L356.9 273.8L358 276.6L359.1 280.9L360.3 289.3L361.4 293.5L362.5 299.9L363.4 286.5L364.2 271L365.4 266.8L366.5 272.4L367.6 270.3L369 264.6L369.9 273.8L370.7 279.4L371.8 275.2L373 280.1L374.1 286.5L375.2 290.7L376.3 297L377.5 289.3L378.6 287.9L379.7 285.1L380.9 290.7L382 293.5L383.1 302L384.2 306.2L385.4 316.8L386.2 299.1L387 292.1L388.2 282.2L389.3 272.4L390.4 267.5L391.6 268.2L392.7 259L393.8 266.1L394.6 262.5L395.8 260.4L396.6 269.6L397.8 276.6L398.9 280.9L399.7 277.3L400.6 285.1L401.7 286.5L402.8 282.2L403.9 287.9L405.1 294.9L406.2 290.7L407 304.1L408.2 296.3L409.3 289.3L410.4 302L411.6 306.2L412.7 310.4L413.5 324.5L414.4 333L415.5 323.1L416.6 319.6L417.5 337.2L418.3 343.9L419.4 337.2L420.6 335.8L421.4 327.3L422.5 318.9L423.7 316.8L424.8 316.1L425.9 327.3L427 321.7L428.2 337.2L429.3 347L430.4 352.7L431.6 358.3L432.7 348.4L433.8 347L434.9 338.6L436.1 334.4L437.2 341.4L438.3 344.2L439.4 338.6L440.6 333L441.7 324.5L442.8 325.9L443.9 323.1L445.1 318.2L446.2 324.5L447.3 313.2L448.4 307.6L449.6 310.4L450.7 314.6L451.8 296.3L452.7 292.1L453.8 296.3L454.9 285.1L456.1 286.5L457.2 280.9L458.3 273.8L459.4 271L460.6 268.2L461.7 266.8L462.8 273.8L463.9 279.4L465.1 276.6L466.2 285.1L467.3 293.5L468.4 302L469.6 303.4L470.7 307.6L471.8 309L473 302L474.1 296.3L474.9 307.6L476.1 316.8L477.2 310.4L478.3 313.2L480 316.8L481 313.5L482.1 319.1L483 341L483.8 333.2L484.6 326.2L485.5 324.8L486.6 333.2L487.8 337.5L488.9 338.9L489.7 341L490.6 333.2L491.4 331.8L492.5 329.7L493.4 326.2L494.2 322.7L495.1 314.9L495.9 322L496.8 305.1L497.9 309.3L498.7 319.1L499.6 340.3L500.7 338.9L501.8 341.7L502.7 347.3L503.5 322L504.4 317.8L505.5 319.1L506.6 315.6L507.8 314.2L508.9 319.1L510 315.6L510.9 324.8L512 334.6L513.1 321.3L514.2 320.6L515.4 326.2L516.5 334.6L517.6 329.7L518.7 327.6L519.9 338.9L520.7 347.3L521.8 351.6L523 348L524.1 353.7L525.2 355.8L526.3 358.6L527.2 364.2L528 358.6L528.9 366.3L530 367.8L530.9 358.6L532 358.6L533.1 355.8L534.2 350.1L535.1 347.3L536.2 345.9L537.3 344.5L538.2 340.3L539 336.1L540.1 331.8L541.3 327.6L542.1 325.5L543 330.4L543.8 316.3L544.6 307.9L545.8 312.1L546.9 307.9L547.8 314.2L548.9 309.3L549.7 306.5L550.6 305.8L551.7 312.1L552.8 314.9L553.9 319.1L555.1 320.6L556.2 319.1L557.3 325.5L558.5 314.9L559.6 309.3L560.7 313.5L561.8 319.1L563 313.5L564.1 305.1L565.2 306.5L566.3 300.9L567.5 297.3L568.6 298.7L569.7 295.9L570.6 300.9L571.7 288.2L572.8 283.9L573.9 284.6L575.1 288.2L576.2 286.8L577.3 291L578.2 295.2L579 285.4L580.1 286.8L581.3 281.1L582.4 284.6L583.5 286.8L584.6 282.5L585.8 276.9L586.9 276.2L588 281.1L589.1 268.4L590.3 267.8L591.4 270.6L592.5 269.1L593.7 269.9L594.8 264.9L595.9 267L597 265.6L598.2 271.3L599.3 266.3L600.4 262.8L601.5 260.7L602.4 260L603.2 252.7L604.4 256.2L605.5 259L606.6 252L607.8 247L608.9 242.8L610 246.3L611.1 243.5L612.2 240L613.4 243.5L614.5 242.8L615.6 233.7L616.8 225.9L617.9 229.4L619 230.8L620.1 233L621.3 237.2L622.4 233.7L623.5 228L624.6 223.8L625.8 223.8L626.9 229.4L628 225.2L629.1 227.3L630.3 222.4L631.7 220.3L632.8 223.8L633.7 236.5L634.5 250.6L635.6 256.2L636.8 257.6L637.9 259L639 255.5L640.1 266.1L641.3 263.2L642.4 257.6L643.5 252L644.6 254.8L645.8 243.5L646.9 235.1L648 233.7L649.1 234.4L650 243.5L650.9 257.6L652 260.4L653.1 256.2L653.9 266.1L655.1 260.4L655.9 257.6L657 264.6L658.2 261.8L659 266.1L660.1 273.8L661.3 270.3L662.4 268.9L663.5 266.8L664.6 260.4L665.8 256.2L666.9 252.7L668 252L669.1 256.2L670 254.8L671.1 266.1L672.2 268.9L673.4 271.7L674.5 280.9L675.6 271.7L676.8 266.1L677.9 259L679 254.8L680.1 249.2L681.3 243.5L682.4 240L683.5 235.1L684.6 232.2L685.8 230.8L686.9 230.1L688 232.2L689.1 231.6L690.3 233.7L691.4 232.2L692.5 233.7L693.7 229.4L694.8 223.8L695.9 225.9L697 220.3L698.2 216.1L699.3 221.7L700.4 218.9L701.5 219.6L702.7 225.2L703.8 226.6L704.9 225.2L706.1 229.4L707.2 237.9L708.3 246.3L709.1 251.3L710.3 243.5L711.4 240.7L712.5 242.1L713.7 237.9L714.8 247.8L715.6 236.5L716.8 226.6L717.9 222.4L719 226.6L720.1 228.7L721.3 232.2L722.1 244.2L723.2 237.9L724.4 236.5L725.5 234.4L726.6 236.5L727.8 240L728.9 245.6L730 248.4L731.1 249.2L732.2 244.2L733.4 246.3L734.5 249.9L735.6 249.2L736.8 254.8L737.9 263.2L739 275.2L740.1 271.7L741.3 267.5L742.4 266.8L743.5 270.3L744.6 268.2L745.5 256.2L746.3 263.2L747.5 270.3L748.6 273.1L750 267.5L750.9 272.2L752 275.7L753.1 275L754.2 275.7L755.4 277.1L756.2 278.5L756.8 260.9L757.6 265.1L758.5 273.6L759.6 280.6L760.7 283.7L761.8 282L763 277.8L764.1 273.6L765.2 272.2L766.1 274.3L766.6 262.3L767.2 246.8L768.3 248.9L769.4 245.4L770.6 244L771.7 238.4L772.8 232.8L773.9 231.3L775.1 229.9L775.9 227.1L777 237.7L777.9 231.3L779 231.3L780.1 227.8L781.3 225L782.4 222.9L783.5 220.1L784.6 217.2L785.5 224.3L786.3 210.2L786.9 182L787.2 181.4L789 177.2L791.1 196.2L793.2 187L795.1 181.4L796.8 164.5L798.2 156.1L799.6 153.2L800.3 144.1L801.7 146.2L803.4 139.9L804.5 153.2L805.2 161.7L806.3 160.3L807.3 175.8L808.3 167.3L809.4 177.2L810.9 164.5L812 170.1L813.1 189.9L813.9 196.2L815.1 182.8L816.5 170.1L817.6 163.1L818.6 157.5L820 156.8L821 159.6L822.1 156.8L823.2 154.7L824.1 151.8L825.2 149L826.3 154.7L827.5 163.1L828.6 167.3L829.7 166.6L830.9 168.7L832 165.9L833.1 171.6L834.1 177.2L834.8 167.3L835.4 151.8L836.5 153.2L837.6 156.8L838.7 150.4L839.6 144.8L840.4 142.7L841.3 153.2L842.1 157.5L843.2 156.8L844.1 165.9L844.9 156.1L846.1 150.4L847.2 146.2L848 140.6L849.1 142L850 137.8L851.1 135.6L852 142L852.8 146.2L853.7 142L854.8 140.6L855.6 153.2L856.5 161.7L857.6 165.2L858.7 164.5L859.9 156.8L861 161L862.1 158.9L863.2 160.3L864.4 156.1L865.8 150.4L867.2 144.8L868.6 137.8L870 130.7L871.4 122.2L872.8 120.8L874.2 113.8L875.6 111L876.8 112.4L877.9 101.1L879 108.2L880.1 98.3L881.3 96.9L882.4 89.2L883.2 87.8L884.1 95.5L885.2 101.1L886.1 108.2L886.9 118L888 117.3L889.1 118.7L890 123.7L891.1 132.1L892.2 137.8L893.4 147.6L894.5 153.2L895.6 163.1L896.8 163.8L897.9 158.9L898.7 146.2L899.6 136.3L900.4 127.9L901.3 139.2L902.1 152.5L903 146.2L903.8 153.2L904.9 150.4L905.8 146.2L906.6 126.5L907.5 117.3L908.6 118L909.7 116.6L910.9 115.2L912 113.8L913.1 112.4L913.9 122.2L915.1 127.9L916.2 133.5L917.3 136.3L918.5 142L919.3 158.9L920.1 178.6L921 189.2L922.1 182.8L923.2 184.2L924.4 178.6L925.5 171.6L926.3 163.1L927.5 161L928.6 171.6L930 171.6L930 171.1L930.9 185.2L931.4 206.3L932 234.5L932.5 248.6L933.4 266.2L933.9 248.6L934.2 213.4L934.8 228.9L935.4 214.8L936.2 204.9L937 212L937.9 219L938.7 216.2L939.9 223.9L940.7 206.3L941.5 193.7L942.7 190.8L943.8 185.2L944.6 183.1L945.5 196.5L946.3 206.3L947.5 217.6L948.6 210.6L949.4 197.9L950.3 184.5L951.1 183.1L952.2 186.6L953.4 190.8L954.2 196.5L955.1 209.2L955.6 219L956.8 212L957.9 209.2L959 207.8L960.1 206.3L961.3 205.6L962.4 203.5L963.5 206.3L964.6 203.5L965.8 213.4L966.9 217.6L968 218.3L969.1 212L970.3 206.3L971.4 204.9L972.5 205.6L973.7 197.9L974.8 186.6L975.6 181L976.5 183.8L977.6 188L978.7 185.2L979.9 187.3L981 191.6L982.1 188L983.2 185.2L984.4 181L985.5 179.6L986.6 180.3L987.8 180.3L988.6 186.6L989.4 197.9L990 204.2L991.1 203.5L992 202.1L992.5 178.2L993.1 158.4L993.7 150L993.9 151.8L994.8 146.2L995.6 139.9L996.8 144.8L997.9 146.9L998.7 156.8L999.6 157.5L1000.7 151.8L1001.8 147.6L1003 142L1004.1 144.8L1005.2 134.9L1006.3 126.5L1007.5 127.9L1008.3 136.3L1009.1 153.2L1010.3 142L1011.4 133.5L1012.5 129.3L1013.4 122.2L1013.4 110.1L1014.4 93.2L1015.9 101L1016.7 90.4L1017.8 96.1L1018.9 96.8L1020.1 89L1021.5 88.3L1022.9 89L1024 110.1L1025.1 114.4L1026.3 110.1L1027.4 94.7L1028.5 79.2L1029.7 86.2L1030.8 76.3L1031.9 66.5L1033 61.5L1034.2 60.9L1035.3 65.1L1036.4 63.7L1037.5 66.5L1038.7 62.2L1039.5 52.4L1040.3 56.6L1041.5 65.1L1042.6 68.6L1043.7 63.7L1044.9 55.2L1046 48.9L1047.1 46.1L1048.2 41.1L1049.1 32.7L1049.9 29.6L1050.8 34.1L1051.8 45.6L1052.4 48.6L1052.9 44.6L1053.5 48.7L1054.1 44.6L1054.7 48.6L1055.3 45.5L1055.9 50.3L1056.1 53.1L1056.3 53.5L1056.8 59.4L1057.3 54.5L1057.9 60.3L1058.5 54.9L1059 60.1L1059.6 55.5L1060.2 59.4L1060.8 56.1L1061.8 56.6L1062.9 55.9L1063.9 55.6L1064.3 54.5L1065.1 59.4L1066.3 69.3L1067.4 79.2L1068.2 85.5L1069.4 83.4L1070.5 82L1071.6 90.4L1072.8 103.1L1073.9 111.5L1075 108.7L1076.1 98.9L1077.2 89L1078.4 87.6L1079.5 79.2L1080.6 75.6" fill="none" stroke="#000" stroke-width="2.08" stroke-linejoin="round" stroke-linecap="butt"/>
<path d="M128.6 393.9L129.1 393.1L129.6 392.1L130.1 391.1L130.6 390.1L132 389.4L132.5 388.9L133 388.5L133.5 388.3L134 388L135.4 387.8L135.9 387.6L136.4 387.4L136.9 387.2L137.4 387.1L138.9 387.1L139.4 387.1L139.8 387.2L140.3 387.5L140.8 388L142.3 388.6L142.8 389.2L143.3 389.7L143.8 390L144.3 390.3L145.7 390.6L146.2 391.2L146.7 391.8L147.2 392.3L147.7 392.6L149.2 392.8L149.6 392.7L150.1 392.5L150.6 392.3L151.1 392.1L152.6 392.1L153.1 392L153.6 391.8L154.5 391.4L156 390.8L156.5 390.1L157 389.5L157.5 388.9L157.9 388.3L159.4 387.7L159.9 387.3L160.4 387L160.9 386.7L161.4 386.3L162.8 385.8L163.3 385.3L163.8 384.8L164.3 384.4L164.8 384L166.3 383.6L166.8 383.2L167.2 382.8L167.7 382.3L169.7 381.6L170.2 380.9L170.7 380.2L171.2 379.4L173.1 378.9L173.6 378.3L174.1 377.7L174.6 377.1L175.1 376.4L176.5 375.7L177 374.9L177.5 374.2L178 373.4L178.5 372.7L180.4 372L180.9 371.3L181.4 370.5L181.9 369.6L183.4 368.6L183.9 367.6L184.4 366.7L184.8 365.8L185.3 365.2L186.8 364.6L187.3 363.9L187.8 363.2L188.3 362.3L188.8 361.4L190.2 360.5L190.7 359.6L191.2 358.9L191.7 358.3L192.2 357.8L194.1 357.4L194.6 357.1L195.1 356.8L195.6 356.6L197.1 356.6L197.6 356.6L198.1 356.6L198.5 356.6L199 356.8L200.5 356.8L201 356.8L201.5 357.1L202 357.3L202.4 357.8L203.9 358.4L204.4 359L204.9 359.5L205.4 360.1L205.9 360.7L207.3 361.1L207.8 361.5L208.3 361.8L208.8 362.2L209.3 362.6L210.8 363.1L211.3 363.5L211.8 363.9L212.2 364.3L212.7 364.7L214.2 365L214.7 365.3L215.2 365.7L215.7 366.3L217.6 366.7L218.1 367.1L218.6 367.6L219.1 368.1L219.6 368.4L221 368.7L221.5 368.7L222 368.7L222.5 368.7L223 368.8L224.5 368.9L224.9 369L225.4 369.1L225.9 369.2L226.4 369.3L227.9 369.3L228.4 369.4L228.9 369.3L229.3 369.2L229.8 369.1L231.3 369L231.8 368.8L232.3 368.5L232.8 368.2L233.3 367.9L234.7 367.8L235.2 367.9L235.7 368L236.2 367.9L236.7 367.8L238.2 367.5L238.6 367.1L239.1 366.8L239.6 366.5L240.1 366.4L241.6 366.1L242.1 366.1L242.6 366L243.1 365.8L243.5 365.6L245.5 365.4L246 365.3L246.5 365.1L247 365L248.4 364.7L248.9 364.5L249.4 364.2L249.9 363.9L250.4 363.5L251.8 363.2L252.3 363L252.8 362.9L253.3 362.9L253.8 362.9L255.3 362.9L255.8 362.9L256.2 362.9L256.7 363L257.2 363L258.7 362.9L259.2 362.9L259.7 362.8L260.2 362.6L260.6 362.3L262.6 361.9L263.1 361.5L263.6 361.1L264.1 360.6L265.5 360.1L266 359.4L266.5 358.7L267 358L267.5 357.3L269 356.8L269.4 356.2L269.9 355.4L270.4 354.5L270.9 353.5L272.4 352.6L272.9 351.6L273.4 350.8L273.9 349.9L274.4 349.1L275.8 348.3L276.3 347.4L276.8 346.6L277.3 345.8L277.8 344.9L279.2 344L279.7 343L280.2 342.1L280.7 341L281.2 340L282.7 338.9L283.1 337.9L283.6 337L284.1 336.1L284.6 335.3L286.1 334.5L286.6 333.7L287.1 333L287.6 332.2L288 331.5L289.5 330.6L290 329.9L290.5 329.1L291 328.2L291.5 327.4L293.4 326.5L293.9 325.6L294.4 324.9L294.9 324.3L296.4 323.8L296.8 323.4L297.3 323.1L297.8 323L298.3 322.9L299.8 322.9L300.3 322.9L300.8 322.9L301.2 323L301.7 323.1L303.2 323.1L303.7 323.1L304.2 323.1L304.7 323.2L305.2 323.4L306.6 323.8L307.1 324L307.6 324.2L308.1 324.5L308.6 324.6L310.1 324.8L310.5 325L311 325.1L311.5 325.2L312 325.3L313.5 325.3L314 325.2L314.4 325.1L314.9 325.1L315.4 325.1L316.9 325.1L317.4 325.1L317.9 325L318.4 324.8L318.9 324.7L320.3 324.7L320.8 324.5L321.3 324.4L321.8 324.4L322.3 324.3L323.7 324.2L324.2 324.2L324.7 324.3L325.2 324.5L325.7 324.7L327.2 324.8L327.6 324.8L328.1 324.7L328.6 324.4L329.1 324L330.6 323.5L331.1 323.1L331.6 322.6L332.5 322.2L334 321.6L334.5 320.8L335 320.1L335.5 319.4L336 318.6L337.4 317.6L337.9 316.5L338.4 315.3L338.9 313.9L339.4 312.5L340.9 310.9L341.4 309.4L341.8 307.9L342.3 306.6L342.8 305.4L344.3 304.3L344.8 303.1L345.3 301.8L345.8 300.5L347.7 299.1L348.2 297.7L348.7 296.4L349.2 295.2L349.7 293.9L351.1 292.6L351.6 291.3L352.1 290.1L352.6 289.1L353.1 288.2L354.6 287.3L355 286.4L355.5 285.4L356 284.4L356.5 283.6L358.5 282.8L358.9 282.1L359.4 281.4L359.9 280.8L361.4 280.3L361.9 279.8L362.4 279.4L362.9 279L363.4 278.6L364.8 277.9L365.3 277.3L365.8 276.7L366.3 276.3L366.8 275.8L368.2 275.2L368.7 274.5L369.2 273.9L369.7 273.5L370.2 273.2L371.7 273L372.2 272.7L372.6 272.7L373.1 272.9L373.6 273.1L375.6 273.8L376.1 274.4L376.6 275.2L377.1 275.8L378.5 276.2L379 276.5L379.5 276.8L380 276.9L380.5 277.1L381.9 277.6L382.4 278.1L382.9 279L383.4 279.8L383.9 280.7L385.4 281.9L385.9 282.9L386.3 283.7L386.8 284.5L387.3 285L388.8 285.2L389.3 285.3L389.8 285.3L390.2 285.3L390.7 285.2L392.2 285.1L392.7 284.8L393.2 284.5L393.7 284.2L394.2 283.8L395.6 283.3L396.1 282.7L396.6 282.2L397.1 281.7L397.6 281.3L399.1 281.2L399.5 281.3L400 281.6L400.5 281.9L402.5 282.2L403 282.4L403.5 282.7L403.9 283.2L404.4 283.7L405.9 284.1L406.4 284.4L406.9 284.9L407.4 285.4L407.9 285.8L409.3 286L409.8 286.2L410.3 286.4L410.8 286.5L411.3 286.7L412.8 287.1L413.2 287.8L413.7 288.6L414.2 289.5L414.7 290.3L416.2 291L416.7 291.5L417.1 292.2L417.6 292.9L418.1 293.7L419.6 294.4L420.1 294.8L420.6 295.4L421.1 296L421.6 296.7L423.5 297.2L424 298L424.5 298.9L425 299.8L426.4 301L426.9 302.1L427.4 303.3L427.9 304.8L428.4 306.4L429.9 308.1L430.4 309.8L430.8 311.7L431.3 313.6L431.8 315.3L433.8 316.8L434.3 318.1L434.8 319.3L435.2 320.5L436.7 321.7L437.2 322.8L437.7 324L438.2 325.2L438.7 326.4L440.6 327.2L441.1 328L441.6 328.7L442.1 329.3L443.6 329.8L444.1 330.2L444.5 330.6L445 331.2L445.5 331.7L447 332L447.5 332.2L448 332.3L448.4 332.2L448.9 332L450.4 331.7L450.9 331.3L451.4 330.8L451.9 330.3L452.4 329.8L453.8 329.1L454.3 328.1L454.8 327L455.3 326L455.8 325L457.2 323.9L457.7 322.8L458.2 321.8L458.7 320.9L459.2 320L460.7 319L461.2 318L461.7 316.8L462.1 315.8L462.6 314.7L464.1 313.6L464.6 312.4L465.1 310.9L465.6 309.5L466.1 308.1L467.5 306.8L468 305.7L468.5 304.8L469 303.9L469.5 303.2L471.4 302.6L471.9 302L472.4 301.3L472.9 300.5L474.4 299.6L474.9 298.9L475.4 298.5L475.8 298.2L476.3 298L477.8 297.8L478.3 297.5L478.8 297.4L479.3 297.3L479.8 297.2L481.2 297.1L481.7 297.1L482.2 297.3L482.7 297.8L483.2 298.4L484.6 298.8L485.1 299L485.6 299.3L486.1 299.8L486.6 300.5L488.1 301.4L488.6 302.3L489 303.2L489.5 304.3L490 305.4L491.5 306.3L492 307.3L492.5 308.3L493 309.4L493.4 310.5L494.9 311.4L495.4 312.4L495.9 313.4L496.4 314.4L496.9 315.1L498.3 315.9L498.8 316.8L499.3 317.9L499.8 319.1L500.3 320.3L501.8 321.5L502.2 322.5L502.7 323.4L503.2 324L503.7 324.4L505.2 324.7L505.7 324.9L506.2 325L506.6 325.2L507.1 325.5L508.6 325.8L509.1 326.1L509.6 326.2L510.6 326.3L512 326.7L512.5 327L513 327.2L513.5 327.4L514 327.5L515.5 327.7L515.9 328L516.4 328.3L516.9 328.6L517.4 328.5L518.9 328.3L519.4 328.4L519.9 328.7L520.3 329.1L520.8 329.4L522.3 329.8L522.8 330L523.3 330.2L523.8 330.5L524.3 330.8L526.2 331.1L526.7 331.7L527.2 332.4L527.7 333L529.6 333.8L530.1 334.6L530.6 335.5L531.1 336.3L532.6 337L533.1 337.9L533.5 338.9L534 339.6L534.5 340.1L536.5 340.4L537 340.5L537.5 340.6L538 340.6L539.4 340.4L539.9 340.1L540.4 340.1L540.9 340.3L541.4 340.4L542.8 340.7L543.3 340.8L543.8 340.8L544.3 340.8L544.8 340.6L546.3 340.4L546.8 340.2L547.2 340L547.7 339.6L548.2 339.3L549.7 339L550.2 338.7L550.7 338.4L551.1 338L551.6 337.7L553.6 337.3L554.1 337.1L554.6 336.9L555.1 336.7L556.5 336.4L557 336.1L557.5 335.7L558 335.1L558.5 334.4L560 333.7L560.5 332.9L560.9 332.2L561.4 331.5L561.9 330.7L563.4 329.6L563.9 328.5L564.4 327.4L564.9 326.2L565.3 324.9L566.8 323.7L567.3 322.5L567.8 321.3L568.3 320.2L568.8 319.1L570.2 318L570.7 317L571.2 316L571.7 314.8L572.2 313.7L573.6 312.6L574.1 311.6L574.6 310.6L575.1 309.8L577.1 309L577.6 308.3L578 307.6L578.5 306.9L579 306.3L580.5 305.8L581 305.3L581.5 304.7L582 304.2L582.5 303.7L583.9 303.1L584.4 302.6L584.9 302L585.4 301.5L585.9 300.9L587.3 300.3L587.8 299.6L588.3 298.9L588.8 297.9L589.3 296.9L590.8 295.9L591.3 294.8L591.8 293.8L592.2 292.7L592.7 291.7L594.2 290.7L594.7 289.8L595.2 288.9L595.7 287.9L596.1 286.9L597.6 285.9L598.1 285.1L598.6 284.4L599.1 283.6L599.6 282.8L601.5 281.9L602 281.1L602.5 280.4L603 279.5L604.5 278.6L605 277.8L605.4 277L605.9 276.2L606.4 275.4L607.9 274.5L608.4 273.7L608.9 272.9L609.4 272.1L609.8 271.2L611.8 270.3L612.3 269.3L612.8 268.3L613.3 267.3L614.7 266.3L615.2 265.3L615.7 264.3L616.2 263.2L616.7 262.1L618.1 261L619.1 259.9L619.6 258.9L620.1 257.9L621.6 257L622.1 256.1L622.6 255.2L623 254.3L623.5 253.2L625 252.1L625.5 251.2L626 250.3L626.5 249.5L627 248.6L628.4 247.8L628.9 246.9L629.4 246L629.9 245.2L630.4 244.3L631.9 243.4L632.3 242.5L632.8 241.7L633.3 240.9L633.8 240.3L635.3 240L635.8 239.8L636.2 239.6L636.7 239.5L637.2 239.5L638.7 239.4L639.2 239.5L639.7 239.6L640.2 239.8L640.6 239.9L642.1 239.9L642.6 240L643.1 240.2L643.6 240.3L644.1 240.5L645.5 240.5L646 240.4L646.5 240.4L647 240.3L647.5 240.1L649.5 240L649.9 240.1L650.4 240.3L650.9 240.8L652.4 241.4L652.9 242L653.4 242.6L653.9 243.3L654.4 243.9L655.8 244.4L656.3 244.9L656.8 245.5L657.3 246.1L657.8 246.8L659.2 247.5L659.7 248.5L660.2 249.5L660.7 250.4L661.2 251.3L662.7 252.1L663.1 252.9L663.6 253.7L664.1 254.4L664.6 255.2L666.1 255.8L666.6 256.5L667.1 257.1L667.5 257.6L668 258.1L669.5 258.4L670 258.4L670.5 258.5L671 258.6L671.5 258.8L672.9 259.1L673.4 259.4L673.9 259.7L674.4 260.1L674.9 260.4L676.4 260.4L676.8 260.5L677.3 260.7L677.8 260.8L678.3 260.9L679.8 260.8L680.3 260.9L680.8 261L681.2 261.1L681.7 261.2L683.2 261.3L683.7 261.2L684.2 261L684.7 260.6L685.2 260.1L686.6 259.6L687.1 259L687.6 258.5L688.6 257.8L690 257.2L690.5 256.7L691 256.1L691.5 255.5L692 254.9L693.5 254.3L694 253.5L694.5 252.6L694.9 251.6L695.4 250.6L696.9 249.6L697.4 248.7L697.9 247.7L698.4 246.7L698.9 245.8L700.3 245L700.8 244.2L701.3 243.6L701.8 242.9L702.3 242.3L704.2 241.8L704.7 241.2L705.2 240.6L705.7 240L707.6 239.6L708.1 239.1L708.6 238.7L709.1 238.2L710.6 237.6L711.1 236.8L711.6 236.1L712 235.6L712.5 235.1L714.5 234.7L715 234.4L715.5 234.1L716 233.7L717.4 233.2L717.9 232.8L718.4 232.4L718.9 232.1L719.4 231.9L720.9 231.8L721.4 231.8L721.8 232L722.3 232.2L722.8 232.4L724.3 232.5L724.8 232.6L725.3 232.7L725.8 232.7L726.2 232.7L727.7 232.9L728.2 233.1L728.7 233.3L729.2 233.6L729.7 234L731.6 234.4L732.1 234.9L732.6 235.3L733.1 235.8L734.5 236.4L735 237L735.5 237.7L736 238.3L736.5 239L738 239.9L738.5 240.9L739 242L739.4 243L739.9 243.9L741.4 244.7L741.9 245.6L742.4 246.3L742.9 246.9L743.4 247.4L744.8 247.7L745.3 247.9L745.8 248.2L746.3 248.6L746.8 249.1L748.2 249.7L748.7 250.3L749.2 250.8L749.7 251.3L751.7 252L752.2 252.9L752.6 253.9L753.1 254.9L753.6 256L755.1 257L755.6 258L756.1 258.9L756.6 259.6L757 260.1L758.5 260.7L759 261.4L759.5 262.3L760 263.2L760.5 264.2L761.9 265.1L762.4 266L762.9 266.7L763.4 267.4L763.9 268L765.4 268.5L765.9 269.1L766.3 269.5L766.8 269.7L767.3 269.8L768.8 269.8L769.3 269.7L769.8 269.6L770.2 269.5L770.7 269.4L772.2 269L772.7 268.4L773.2 267.7L773.7 266.8L774.2 265.9L775.6 265.1L776.1 264.3L776.6 263.6L777.1 263L777.6 262.3L779.5 261.5L780 260.8L780.5 260.1L781 259.5L782.5 258.7L783 257.8L783.5 256.8L784 255.7L784.4 254.6L785.9 253.6L786.4 252.3L786.9 250.4L787.4 248.5L787.9 246.6L789.3 244.7L789.8 242.9L790.8 241.2L791.3 239.5L792.8 238L793.2 236.5L793.7 234.7L794.2 232.8L794.7 230.9L796.2 228.7L796.7 226.3L797.1 223.9L798.1 221.4L799.6 218.9L800.1 216.3L800.6 213.8L801.1 211.2L801.5 208.7L803 206.1L803.5 203.8L804 201.8L804.5 199.9L805 198.2L806.4 196.5L806.9 195L807.4 193.7L807.9 192.4L808.4 191.1L809.9 189.9L810.4 188.6L810.8 187.3L811.3 186.1L811.8 184.9L813.3 184L813.8 183.2L814.3 182.4L814.8 181.5L815.2 180.6L816.7 179.4L817.2 178.2L817.7 177L818.2 175.8L818.7 174.5L820.1 173.3L820.6 172.1L821.1 170.9L821.6 169.9L822.1 169.4L823.6 168.8L824 168.3L824.5 167.7L825 167L825.5 166.2L827.5 165.5L828 165L828.5 164.6L828.9 164.2L830.4 163.9L830.9 163.7L831.4 163.6L831.9 163.6L832.4 163.7L833.8 164.1L834.3 164.5L834.8 164.9L835.3 165.1L835.8 165.2L837.2 165.4L837.7 165.7L838.2 166L838.7 166L839.2 165.9L840.7 165.7L841.2 165.5L841.7 165.2L842.1 164.8L842.6 164.6L844.1 164.5L844.6 164.2L845.1 164L845.6 163.7L846.1 163.4L847.5 162.9L848 161.9L848.5 160.8L849 159.8L849.5 158.9L851 158L851.4 157.3L851.9 156.9L852.4 156.5L852.9 156.2L854.4 155.9L854.9 155.6L855.4 155.4L855.8 155.3L856.3 155.3L857.8 155.5L858.3 155.7L858.8 156L859.3 156.2L859.8 156.3L861.2 156.6L861.7 156.5L862.2 156.4L862.7 156.2L863.2 156.1L864.6 155.8L865.1 155.5L865.6 155.2L866.1 154.8L866.6 154.4L868.1 153.7L868.5 153L869 152.4L870 151.9L871.5 151.3L872 150.6L872.5 149.9L873 149.3L873.4 148.6L874.9 147.9L875.4 147.2L875.9 146.4L876.4 145.6L876.9 144.6L878.3 143.6L878.8 142.4L879.3 141.3L879.8 140.2L880.3 139.1L881.8 138L882.2 136.9L883.2 135.9L883.7 134.9L885.2 134.1L885.7 133.4L886.6 132.9L887.1 132.5L888.6 132.1L889.1 131.6L889.6 131.1L890.6 130.8L892 130.7L892.5 130.5L893 130.3L893.5 130.1L894 129.8L895.9 129.8L896.4 129.7L896.9 129.8L897.4 129.8L898.9 129.5L899.4 129.1L899.9 128.6L900.3 128L900.8 127.5L902.3 127.4L902.8 127.3L903.3 127.2L903.8 127.3L904.2 127.4L905.7 127.5L906.2 127.5L906.7 127.3L907.2 127.1L907.7 127L909.6 126.9L910.1 126.8L910.6 126.7L911.1 126.6L912.6 126.6L913.1 126.7L913.5 126.8L914 127L914.5 127.3L916 127.8L916.5 128.4L917 129L917.5 129.7L918 130.5L919.4 131.9L919.9 133.6L920.4 135.4L920.9 137.3L921.4 139.1L922.8 140.6L923.3 142L923.8 143.3L924.3 144.5L924.8 145.7L926.3 146.5L926.8 147.2L927.2 147.7L927.7 148.2L928.2 148.6L929.7 149.1L930.2 149.6L930.7 149.9L931.1 150.6L931.6 151.7L933.1 153.7L933.6 156L934.1 157.8L934.6 159.6L935.1 161.5L936.5 162.9L937 164.2L937.5 165.5L938 166.9L940 168.3L940.5 169.5L940.9 170.6L941.4 171.8L941.9 173.2L943.4 174.5L943.9 175.8L944.4 177.2L944.9 178.6L945.3 180.2L946.8 182.1L947.3 184.2L947.8 186.2L948.3 188.1L948.8 189.8L950.2 191L950.7 192L951.2 193L951.7 194L952.2 195L953.6 196.1L954.1 196.8L954.6 197.3L955.1 197.9L955.6 198.5L957.6 199L958 199.5L958.5 200L959 200.5L960.5 201.1L961 201.6L961.5 202.5L962 203.3L962.5 204.2L963.9 205L964.4 205.7L964.9 206.4L965.4 207.1L965.9 207.8L967.3 208.2L967.8 208.2L968.3 207.3L969.3 206.4L970.8 205.9L971.3 205.5L971.8 205.2L972.2 205.1L972.7 205L974.2 204.5L974.7 203.9L975.2 203.1L975.7 202.5L977.6 202.2L978.1 202.1L978.6 201.9L979.1 201.9L979.6 201.9L981 202.1L981.5 202.1L982 202L982.5 201.5L983 200.9L984.5 200.2L985 199.6L985.4 199L985.9 198.9L986.4 198.8L987.9 198.8L988.4 198.8L988.9 198.9L989.4 199L989.8 199.1L991.3 199.1L991.8 199L992.3 198.4L992.8 197.6L993.3 196.5L994.7 195.3L995.2 194L995.7 192.7L996.2 191.4L996.7 190.2L998.1 189.1L998.6 188.1L999.1 187.2L999.6 186.2L1000.1 185.2L1001.6 184L1002.1 182.6L1002.6 181.2L1003 179.6L1003.5 178.2L1005.5 176.6L1006 175.1L1006.5 173.5L1007 171.9L1008.4 170.6L1008.9 169.5L1009.4 168.7L1009.9 167.8L1010.4 166.9L1011.9 166L1012.3 164.8L1012.8 163.6L1013.3 162.4L1013.8 160.7L1015.3 158.9L1015.8 157.1L1016.2 155.2L1016.7 153.3L1017.2 151.4L1018.7 149.6L1019.2 147.9L1019.7 146.1L1020.2 144.3L1020.6 142.5L1022.1 140.7L1022.6 138.8L1023.1 137L1023.6 135.2L1024.1 133.5L1025.5 131.7L1026 129.9L1026.5 127.9L1027 126.2L1027.5 124.6L1029 123.2L1029.5 121.9L1029.9 120.7L1030.4 119.5L1030.9 118.2L1032.4 116.6L1032.9 114.8L1033.4 112.9L1033.9 111L1034.3 109.1L1035.8 107.3L1036.3 105.6L1036.8 104L1037.3 102.4L1037.8 100.8L1039.2 99.1L1039.7 97.5L1040.2 96L1040.7 94.7L1041.2 93.4L1042.7 92L1043.2 90.4L1043.6 88.6L1044.1 86.9L1044.6 85.2L1046.1 83.6L1046.6 81.9L1047.1 80.3L1048 78.7L1049.5 77.2L1050 75.9L1050.5 74.5L1051 73.3L1051.5 72.4L1052.9 71.4L1053.4 70.4L1053.9 69.4L1054.4 68.5L1054.9 67.7L1056.3 67L1056.8 66.4L1057.3 65.8L1057.8 65.1L1058.3 64.2L1059.8 63.1L1060.3 62L1060.8 60.9L1061.7 59.9L1063.2 59L1063.7 58.3L1064.2 57.8L1065.2 57.2L1066.6 57L1067.1 57L1067.6 57.1L1068.1 57.5L1068.6 57.9L1070 58.4L1070.5 58.8L1071 59.3L1071.5 59.8L1072 60.4L1074 61.3L1074.5 62.2L1074.9 63.1L1075.4 64.1L1076.9 64.8L1077.4 65.5L1077.9 66.1L1078.4 66.6L1078.8 66.9L1080.3 67.1" fill="none" stroke="#008000" stroke-width="2.08" stroke-linejoin="round" stroke-linecap="butt"/>
<path d="M110 396.2L111.5 393.1L112 389.8L112.5 386.8L113 384.1L113.4 382.8L115.4 382.2L115.9 382L116.4 382L116.9 382L118.3 381.8L118.8 381.7L119.3 381.8L119.8 382.1L120.3 382.6L121.8 383.3L122.2 383.9L122.7 384.6L123.2 385.4L123.7 386.3L125.2 387L125.7 387.9L126.2 388.8L126.7 389.8L127.1 390.8L128.6 391.7L129.1 393L129.6 394.4L130.1 395.4L130.6 396L132 395.9L132.5 395.5L133 395.1L133.5 394.5L134 394L135.4 393.9L135.9 393.5L136.4 393L136.9 392.4L137.4 391.6L138.9 390.9L139.4 390.3L139.8 389.8L140.3 389.6L140.8 389.7L142.3 390.1L142.8 390.5L143.3 390.6L143.8 390.2L144.3 389.8L145.7 389.5L146.2 389.4L146.7 389.3L147.2 389.3L147.7 389.3L149.2 389.6L149.6 389.8L150.1 389.9L150.6 390.1L151.1 390.2L152.6 390.4L153.1 390.5L153.6 390.5L154.5 390.4L156 389.9L156.5 389.4L157 388.7L157.5 387.9L157.9 386.9L159.4 385.8L159.9 384.6L160.4 383.5L160.9 382.8L161.4 382.4L162.8 381.7L163.3 381.1L163.8 380.3L164.3 379.5L164.8 378.7L166.3 377.8L166.8 376.8L167.2 375.8L167.7 374.6L169.7 373.1L170.2 371.6L170.7 369.9L171.2 368.4L173.1 367.3L173.6 366.2L174.1 365.5L174.6 364.8L175.1 364.1L176.5 363.5L177 363L177.5 362.6L178 362.3L178.5 361.9L180.4 361.1L180.9 360.2L181.4 359.2L181.9 358.2L183.4 356.9L183.9 355.7L184.4 354.6L184.8 353.9L185.3 353.6L186.8 353.4L187.3 353.2L187.8 353.2L188.3 353.1L188.8 352.9L190.2 352.6L190.7 352L191.2 351.5L191.7 351.1L192.2 350.8L194.1 350.9L194.6 350.7L195.1 350.7L195.6 350.7L197.1 350.9L197.6 351.3L198.1 352.1L198.5 353.1L199 354.3L200.5 355.3L201 356.8L201.5 358.4L202 360.1L202.4 361.7L203.9 363.2L204.4 364.5L204.9 365.8L205.4 367L205.9 368.3L207.3 369.4L207.8 370.4L208.3 371.6L208.8 372.9L209.3 374.1L210.8 375.3L211.3 376.2L211.8 377.1L212.2 377.9L212.7 378.6L214.2 379L214.7 379.2L215.2 379.4L215.7 379.4L217.6 379.1L218.1 378.9L218.6 378.5L219.1 377.8L219.6 376.8L221 375.6L221.5 374.2L222 372.8L222.5 371.7L223 370.6L224.5 369.6L224.9 368.7L225.4 367.9L225.9 366.9L226.4 365.7L227.9 364.5L228.4 363.4L228.9 362.4L229.3 361.4L229.8 360.3L231.3 359.4L231.8 358.6L232.3 357.8L232.8 357.1L233.3 356.4L234.7 356.5L235.2 356.9L235.7 357.4L236.2 358.1L236.7 358.7L238.2 359.3L238.6 360L239.1 360.7L239.6 361.3L240.1 362.1L241.6 362.7L242.1 363.4L242.6 364.1L243.1 364.8L243.5 365.5L245.5 366.4L246 367.2L246.5 367.9L247 368.6L248.4 369.2L248.9 369.6L249.4 369.8L249.9 369.9L250.4 370L251.8 369.9L252.3 369.5L252.8 369L253.3 368.4L253.8 367.8L255.3 367.1L255.8 366.5L256.2 365.9L256.7 365.2L257.2 364.6L258.7 363.8L259.2 363L259.7 362.1L260.2 361.1L260.6 359.9L262.6 358.4L263.1 356.7L263.6 355.1L264.1 353.4L265.5 351.5L266 349.7L266.5 347.9L267 346.2L267.5 344.7L269 343.5L269.4 342.4L269.9 341.2L270.4 340L270.9 338.6L272.4 337.3L272.9 336.1L273.4 335L273.9 334L274.4 333L275.8 331.9L276.3 331L276.8 330.2L277.3 329.4L277.8 328.7L279.2 328.1L279.7 327.7L280.2 327.4L280.7 327L281.2 326.6L282.7 326.2L283.1 326.1L283.6 326.1L284.1 326.1L284.6 325.9L286.1 325.4L286.6 325.1L287.1 324.7L287.6 324.5L288 324.4L289.5 324L290 323.6L290.5 323.1L291 322.5L291.5 321.8L293.4 321L293.9 320.2L294.4 319.5L294.9 319.1L296.4 318.9L296.8 318.7L297.3 318.6L297.8 318.6L298.3 318.8L299.8 319.2L300.3 319.5L300.8 319.8L301.2 319.9L301.7 320.1L303.2 320.4L303.7 320.7L304.2 321.1L304.7 321.7L305.2 322.3L306.6 323.1L307.1 324.1L307.6 324.9L308.1 325.8L308.6 326.7L310.1 327.8L310.5 329L311 330.1L311.5 330.9L312 331.5L313.5 331.7L314 331.7L314.4 331.7L314.9 331.6L315.4 331.4L316.9 330.9L317.4 330.6L317.9 330.2L318.4 329.8L318.9 329.4L320.3 328.9L320.8 328.4L321.3 327.8L321.8 327L322.3 326.2L323.7 325.3L324.2 324.4L324.7 323.7L325.2 323.2L325.7 322.6L327.2 321.7L327.6 320.6L328.1 319.2L328.6 317.9L329.1 316.6L330.6 315.4L331.1 314.4L331.6 313.5L332.5 312.8L334 311.8L334.5 310.7L335 309.6L335.5 308.4L336 307.5L337.4 305.9L337.9 304.1L338.4 302.3L338.9 300.1L339.4 297.9L340.9 295.6L341.4 293.4L341.8 291.4L342.3 289.5L342.8 287.6L344.3 285.9L344.8 284.5L345.3 283.1L345.8 281.8L347.7 280.2L348.2 278.8L348.7 277.4L349.2 275.9L349.7 274.3L351.1 272.4L351.6 270.8L352.1 269.6L352.6 268.7L353.1 268L354.6 267.2L355 266.8L355.5 266.6L356 266.6L356.5 267L358.5 267.7L358.9 268.5L359.4 269.4L359.9 270.2L361.4 271.1L361.9 272L362.4 272.8L362.9 273.5L363.4 274L364.8 274L365.3 274.4L365.8 274.7L366.3 275.2L366.8 275.7L368.2 276.1L368.7 276.6L369.2 277L369.7 277.4L370.2 277.8L371.7 278L372.2 278.3L372.6 278.6L373.1 279.1L373.6 279.7L375.6 280.5L376.1 281.2L376.6 281.8L377.1 282.2L378.5 282.2L379 282L379.5 281.6L380 281L380.5 280.8L381.9 281.1L382.4 282.2L382.9 283.6L383.4 284.9L383.9 286.2L385.4 288L385.9 289.6L386.3 290.9L386.8 291.9L387.3 292.6L388.8 292.7L389.3 292.6L389.8 292.3L390.2 291.9L390.7 291.3L392.2 290.5L392.7 289.1L393.2 287.8L393.7 286.6L394.2 285.5L395.6 284.4L396.1 283.5L396.6 282.9L397.1 282.3L397.6 281.8L399.1 281.2L399.5 280.5L400 279.7L400.5 278.9L402.5 278.1L403 276.7L403.5 275.9L403.9 275.5L404.4 275.4L405.9 275.5L406.4 276.1L406.9 277.3L407.4 278.6L407.9 279.8L409.3 280.6L409.8 281.9L410.3 283.6L410.8 285.2L411.3 286.9L412.8 288.7L413.2 291.1L413.7 293.6L414.2 296.1L414.7 298.4L416.2 300.2L416.7 301.8L417.1 303.9L417.6 306.2L418.1 308.6L419.6 310.7L420.1 312.8L420.6 314.8L421.1 316.5L421.6 317.9L423.5 319L424 319.9L424.5 320.5L425 321.1L426.4 322.1L426.9 323.5L427.4 324.7L427.9 326.1L428.4 327.5L429.9 329.3L430.4 330.9L430.8 332.3L431.3 333.5L431.8 334.5L433.8 335.2L434.3 336.1L434.8 336.9L435.2 337.1L436.7 337.1L437.2 337.1L437.7 337.3L438.2 337.6L438.7 337.9L440.6 338L441.1 338.1L441.6 338.4L442.1 338.7L443.6 339L444.1 339.2L444.5 339.1L445 338.9L445.5 338.6L447 338L447.5 336.9L448 335.3L448.4 333.5L448.9 331.7L450.4 329.9L450.9 328.1L451.4 326.4L451.9 324.5L452.4 322.7L453.8 321L454.3 319.1L454.8 316.9L455.3 314.6L455.8 312.3L457.2 309.8L457.7 307.6L458.2 305.4L458.7 303.4L459.2 301.2L460.7 299L461.2 296.8L461.7 294.6L462.1 292.7L462.6 290.8L464.1 289.2L464.6 287.9L465.1 286.5L465.6 285.4L466.1 284.4L467.5 283.7L468 283.2L468.5 283.1L469 283.4L469.5 283.8L471.4 284.3L471.9 285L472.4 285.7L472.9 286.4L474.4 287L474.9 288L475.4 289.4L475.8 291L476.3 292.7L477.8 294.3L478.3 296.1L478.8 298L479.3 299.9L479.8 301.8L481.2 303.5L481.7 305L482.2 306.7L482.7 309L483.2 311.4L484.6 313.1L485.1 314.3L485.6 315.4L486.1 316.4L486.6 317.7L488.1 319L488.6 320.2L489 321.5L489.5 322.9L490 324.3L491.5 325.6L492 326.5L492.5 327.3L493 327.8L493.4 328.2L494.9 328.4L495.4 328.6L495.9 328.9L496.4 328.8L496.9 328.4L498.3 328.4L498.8 328.5L499.3 329L499.8 329.3L500.3 329.3L501.8 329.9L502.2 330.7L502.7 331.5L503.2 331.5L503.7 331L505.2 330.3L505.7 329.5L506.2 328.6L506.6 327.6L507.1 326.7L508.6 326.1L509.1 325.6L509.6 325.1L510.6 324.9L512 325.2L512.5 325.6L513 325.8L513.5 325.8L514 326.1L515.5 327L515.9 327.6L516.4 328.1L516.9 328.1L517.4 327.7L518.9 327.3L519.4 327L519.9 326.8L520.3 326.7L520.8 327.4L522.3 328.6L522.8 329.7L523.3 331L523.8 332.4L524.3 333.9L526.2 335.6L526.7 337.4L527.2 339.2L527.7 341L529.6 342.8L530.1 344.1L530.6 345.4L531.1 346.9L532.6 348.3L533.1 349.7L533.5 350.8L534 351.6L534.5 352.2L536.5 352.7L537 353.3L537.5 353.9L538 354.1L539.4 354L539.9 353.5L540.4 352.9L540.9 352L541.4 351.2L542.8 350.4L543.3 349.3L543.8 347.8L544.3 345.9L544.8 343.8L546.3 341.6L546.8 339.5L547.2 337.2L547.7 335.1L548.2 333.2L549.7 331.1L550.2 329.1L550.7 327.1L551.1 325.3L551.6 323.7L553.6 322.5L554.1 321.4L554.6 320.4L555.1 319.5L556.5 318.7L557 318.3L557.5 317.9L558 317.4L558.5 316.9L560 316.2L560.5 315.5L560.9 315.1L561.4 315.2L561.9 315.5L563.4 315.5L563.9 315.4L564.4 315.3L564.9 315.1L565.3 314.8L566.8 314.2L567.3 313.9L567.8 313.6L568.3 313.2L568.8 312.8L570.2 312.3L570.7 311.6L571.2 310.5L571.7 309.2L572.2 307.9L573.6 306.4L574.1 304.9L574.6 303.4L575.1 302.2L577.1 301.2L577.6 300.4L578 299.7L578.5 298.8L579 297.5L580.5 296.1L581 295L581.5 294L582 293.1L582.5 292.3L583.9 291.5L584.4 290.8L584.9 290.2L585.4 289.4L585.9 288.6L587.3 287.8L587.8 287L588.3 286.1L588.8 285.3L589.3 284.5L590.8 283.8L591.3 283.2L591.8 282.6L592.2 281.9L592.7 281.2L594.2 280.3L594.7 279.2L595.2 278.1L595.7 277.1L596.1 276.4L597.6 275.7L598.1 275.2L598.6 274.7L599.1 274.1L599.6 273.3L601.5 272.3L602 271.4L602.5 270.5L603 269.6L604.5 268.7L605 267.9L605.4 267.1L605.9 266.2L606.4 265.4L607.9 264.6L608.4 263.6L608.9 262.5L609.4 261.5L609.8 260.5L611.8 259.4L612.3 258.3L612.8 257.4L613.3 256.5L614.7 255.4L615.2 254.2L615.7 252.8L616.2 251.2L616.7 249.5L618.1 248L619.1 246.6L619.6 245.4L620.1 244.3L621.6 243.4L622.1 242.6L622.6 241.7L623 240.6L623.5 239.4L625 238.1L625.5 236.9L626 236L626.5 235.3L627 234.8L628.4 234L628.9 233.3L629.4 232.7L629.9 232L630.4 231.3L631.9 230.4L632.3 229.6L632.8 229.1L633.3 229L633.8 229.4L635.3 230.5L635.8 231.6L636.2 232.6L636.7 233.6L637.2 234.6L638.7 235.4L639.2 236.3L639.7 237.5L640.2 238.9L640.6 240.4L642.1 241.8L642.6 243.1L643.1 244.3L643.6 245.3L644.1 246.2L645.5 247L646 247.6L646.5 248.1L647 248.5L647.5 249L649.5 249.7L649.9 250.5L650.4 251.6L650.9 252.6L652.4 253.4L652.9 253.5L653.4 253.7L653.9 254L654.4 254.2L655.8 254.2L656.3 254.4L656.8 254.6L657.3 254.7L657.8 254.6L659.2 254.7L659.7 255.2L660.2 255.8L660.7 256.6L661.2 257.3L662.7 257.9L663.1 258.8L663.6 259.8L664.1 260.8L664.6 261.8L666.1 262.6L666.6 263.3L667.1 263.7L667.5 263.7L668 263.5L669.5 263.4L670 263.3L670.5 263.3L671 263.3L671.5 263.4L672.9 263.9L673.4 264.4L673.9 264.9L674.4 265.5L674.9 266.1L676.4 266.1L676.8 265.9L677.3 265.5L677.8 265L678.3 264.4L679.8 263.8L680.3 263L680.8 262.2L681.2 261.4L681.7 260.7L683.2 259.9L683.7 259.1L684.2 258.4L684.7 257.6L685.2 256.8L686.6 255.8L687.1 254.8L687.6 253.7L688.6 252.3L690 251L690.5 249.5L691 247.9L691.5 246.2L692 244.3L693.5 242.4L694 240.8L694.5 239.2L694.9 237.7L695.4 236.3L696.9 234.8L697.4 233.6L697.9 232.3L698.4 231.1L698.9 230.2L700.3 229.3L700.8 228.6L701.3 228L701.8 227.4L702.3 227.1L704.2 226.9L704.7 226.7L705.2 226.5L705.7 226.4L707.6 226.8L708.1 227.2L708.6 227.8L709.1 228.6L710.6 229L711.1 229.3L711.6 229.7L712 230.3L712.5 230.9L714.5 231.8L715 232.6L715.5 233.3L716 233.9L717.4 234.2L717.9 234.4L718.4 234.6L718.9 234.8L719.4 235.2L720.9 235.6L721.4 236.1L721.8 236.8L722.3 237.5L722.8 238.1L724.3 238.5L724.8 238.8L725.3 238.6L725.8 238.2L726.2 237.7L727.7 237.2L728.2 237.2L728.7 237.3L729.2 237.5L729.7 237.8L731.6 238L732.1 237.9L732.6 237.9L733.1 238.2L734.5 238.9L735 239.9L735.5 241L736 242L736.5 243.1L738 244.6L738.5 246.1L739 247.8L739.4 249.1L739.9 250.3L741.4 251.4L741.9 252.6L742.4 253.8L742.9 255.2L743.4 256.6L744.8 257.8L745.3 258.5L745.8 259.2L746.3 259.9L746.8 260.7L748.2 261.7L748.7 262.7L749.2 263.7L749.7 264.7L751.7 265.9L752.2 266.9L752.6 267.9L753.1 268.9L753.6 269.9L755.1 270.8L755.6 271.4L756.1 271.7L756.6 271.4L757 271L758.5 271L759 271.4L759.5 271.9L760 272.6L760.5 273.1L761.9 273.6L762.4 274.2L762.9 274.9L763.4 275.6L763.9 276.1L765.4 276.4L765.9 276.4L766.3 276.3L766.8 275.7L767.3 274.8L768.8 273.8L769.3 272.6L769.8 271.4L770.2 270.1L770.7 268.8L772.2 267.2L772.7 265.4L773.2 263.6L773.7 262.2L774.2 260.9L775.6 259.1L776.1 257.2L776.6 255.3L777.1 253.5L777.6 251.5L779.5 249.5L780 247.4L780.5 245.3L781 243.3L782.5 241.3L783 239.2L783.5 237.1L784 235.1L784.4 233.6L785.9 232.4L786.4 230.8L786.9 228.3L787.4 225.7L787.9 223.1L789.3 220.6L789.8 218.5L790.8 216.9L791.3 215.5L792.8 213.8L793.2 212L793.7 210.3L794.2 208.5L794.7 206.5L796.2 203.8L796.7 201.1L797.1 198.4L798.1 195.5L799.6 192.5L800.1 189.4L800.6 186.2L801.1 183.2L801.5 180.2L803 177.1L803.5 174.1L804 171.2L804.5 169.1L805 168.1L806.4 167.3L806.9 166.9L807.4 166.7L807.9 166.2L808.4 165.2L809.9 164.3L810.4 163.5L810.8 162.6L811.3 161.8L811.8 161.2L813.3 161.6L813.8 162.6L814.3 163.7L814.8 164.6L815.2 165.6L816.7 166.2L817.2 167L817.7 167.7L818.2 168.3L818.7 168.8L820.1 169.4L820.6 170.1L821.1 170.6L821.6 170.8L822.1 170.7L823.6 170.4L824 169.7L824.5 168.7L825 167.8L825.5 167.1L827.5 166.7L828 166.6L828.5 166.7L828.9 166.7L830.4 166.6L830.9 165.7L831.4 164.6L831.9 163.6L832.4 162.8L833.8 162.6L834.3 162.8L834.8 162.8L835.3 162.5L835.8 162.2L837.2 162.1L837.7 162.1L838.2 161.8L838.7 161.5L839.2 161.1L840.7 160.6L841.2 160.6L841.7 160.7L842.1 160.9L842.6 161.3L844.1 161.9L844.6 161.7L845.1 161.3L845.6 160.8L846.1 160.1L847.5 159.2L848 158.1L848.5 157L849 156L849.5 154.9L851 153.3L851.4 151.9L851.9 150.9L852.4 150.5L852.9 150.3L854.4 149.7L854.9 149.1L855.4 148.9L855.8 149.1L856.3 149.7L857.8 150.4L858.3 150.9L858.8 151.3L859.3 151.4L859.8 151.4L861.2 151.2L861.7 151.2L862.2 151.4L862.7 151.6L863.2 152L864.6 152.5L865.1 153L865.6 153.4L866.1 153.7L866.6 153.9L868.1 154.1L868.5 154.1L869 153.8L870 153.3L871.5 152.4L872 151.6L872.5 150.8L873 149.6L873.4 148.1L874.9 146.2L875.4 144.1L875.9 141.9L876.4 139.8L876.9 137.8L878.3 135.7L878.8 133.6L879.3 131.4L879.8 129.1L880.3 126.6L881.8 124L882.2 121.4L883.2 118.8L883.7 116.4L885.2 114.5L885.7 112.8L886.6 111.8L887.1 111L888.6 110.3L889.1 109.8L889.6 109.8L890.6 110L892 110.6L892.5 111.4L893 112.5L893.5 113.9L894 115.5L895.9 117.6L896.4 119.6L896.9 121.7L897.4 124L898.9 125.5L899.4 126.8L899.9 128.1L900.3 129.3L900.8 130.9L902.3 133.4L902.8 135.8L903.3 138L903.8 140.1L904.2 142L905.7 143.2L906.2 144L906.7 144.3L907.2 144.3L907.7 144.2L909.6 143.7L910.1 142.9L910.6 141.9L911.1 140.8L912.6 139.3L913.1 137.8L913.5 136L914 134.4L914.5 132.8L916 131.7L916.5 131.3L917 131.2L917.5 131.3L918 131.7L919.4 132.9L919.9 133.7L920.4 135.1L920.9 136.7L921.4 138L922.8 139.3L923.3 140.8L923.8 142.6L924.3 144.7L924.8 147L926.3 148.8L926.8 150.6L927.2 152.4L927.7 154.4L928.2 156.5L929.7 158.8L930.2 161.3L930.7 163.8L931.1 166.8L931.6 170.5L933.1 175.6L933.6 180.7L934.1 184.4L934.6 187.9L935.1 191.2L936.5 193L937 194.6L937.5 195.9L938 197.2L940 198.6L940.5 199.7L940.9 200.5L941.4 201L941.9 201.6L943.4 202L943.9 202.9L944.4 203.8L944.9 204.7L945.3 206L946.8 207.7L947.3 209.4L947.8 211.1L948.3 212.4L948.8 212.8L950.2 211.5L950.7 208.4L951.2 205.4L951.7 203.6L952.2 202.1L953.6 200.9L954.1 200.5L954.6 200.1L955.1 199.9L955.6 199.9L957.6 199.4L958 199.3L958.5 199.5L959 200L960.5 200.5L961 201.2L961.5 202.1L962 202.9L962.5 203.6L963.9 204L964.4 203.8L964.9 203.3L965.4 203.1L965.9 203.2L967.3 203.6L967.8 204.9L968.3 206.2L969.3 207.3L970.8 208.1L971.3 208.9L971.8 209.4L972.2 209.8L972.7 209.8L974.2 209.2L974.7 207.9L975.2 206.9L975.7 205.8L977.6 204.9L978.1 204.1L978.6 203.3L979.1 202.5L979.6 201.8L981 201.2L981.5 200.7L982 200L982.5 199.3L983 198.5L984.5 197.4L985 196L985.4 194.5L985.9 193L986.4 191.5L987.9 190.3L988.4 189.5L988.9 188.9L989.4 188.5L989.8 188.4L991.3 188.4L991.8 188.8L992.3 188.8L992.8 188.2L993.3 187.2L994.7 185.6L995.2 183.8L995.7 182L996.2 180.3L996.7 178.6L998.1 176.9L998.6 175.6L999.1 174.3L999.6 173.1L1000.1 171.9L1001.6 170.6L1002.1 169.2L1002.6 167.8L1003 166.3L1003.5 164.8L1005.5 162.9L1006 160.7L1006.5 158.1L1007 155.3L1008.4 152.8L1008.9 150.6L1009.4 148.5L1009.9 146.8L1010.4 145.7L1011.9 144.7L1012.3 144L1012.8 143.4L1013.3 142.7L1013.8 141.2L1015.3 139.3L1015.8 137.3L1016.2 134.9L1016.7 132.3L1017.2 129.7L1018.7 127.4L1019.2 125.2L1019.7 123L1020.2 120.8L1020.6 118.7L1022.1 116.5L1022.6 114.8L1023.1 113.3L1023.6 112.3L1024.1 111.7L1025.5 110.6L1026 109.1L1026.5 107.4L1027 105.5L1027.5 103.6L1029 101.6L1029.5 99.8L1029.9 98.1L1030.4 96.3L1030.9 95.2L1032.4 93.8L1032.9 92.3L1033.4 90.9L1033.9 89.7L1034.3 88.5L1035.8 87.2L1036.3 85.9L1036.8 84.8L1037.3 83.9L1037.8 83L1039.2 81.7L1039.7 80.3L1040.2 78.8L1040.7 77.1L1041.2 75.2L1042.7 73.4L1043.2 71.6L1043.6 69.9L1044.1 68.3L1044.6 66.9L1046.1 65.5L1046.6 64L1047.1 62.5L1048 61L1049.5 59.3L1050 57.9L1050.5 56.7L1051 55.7L1051.5 55L1052.9 54.3L1053.4 53.7L1053.9 53L1054.4 52.2L1054.9 51.5L1056.3 51L1056.8 51.2L1057.3 51.2L1057.8 51.4L1058.3 51.3L1059.8 51L1060.3 50.7L1060.8 50.3L1061.7 50L1063.2 49.8L1063.7 49.7L1064.2 50L1065.2 50.5L1066.6 51.5L1067.1 52.9L1067.6 54.9L1068.1 57L1068.6 59.1L1070 61L1070.5 62.6L1071 64.2L1071.5 65.9L1072 67.8L1074 70.4L1074.5 72.9L1074.9 75.1L1075.4 76.9L1076.9 78.4L1077.4 79.6L1077.9 80.9L1078.4 82.1L1078.8 83.1L1080.3 83.9" fill="none" stroke="#ff0000" stroke-width="2.08" stroke-linejoin="round" stroke-linecap="butt"/>
<path d="M235.2 376L235.7 375.7L236.2 375.4L236.7 375.1L238.2 374.7L238.6 374.5L239.1 374.4L239.6 374.2L240.1 374.1L241.6 373.9L242.1 373.8L242.6 373.6L243.1 373.5L243.5 373.4L245.5 373.2L246 373.1L246.5 373L247 373L248.4 372.9L248.9 372.8L249.4 372.8L249.9 372.8L250.4 372.7L251.8 372.7L252.3 372.6L252.8 372.6L253.3 372.6L253.8 372.6L255.3 372.6L255.8 372.5L256.2 372.4L256.7 372.2L257.2 372L258.7 371.8L259.2 371.6L259.7 371.3L260.2 371.1L260.6 370.7L262.6 370.4L263.1 370L263.6 369.6L264.1 369.2L265.5 368.8L266 368.4L266.5 368L267 367.7L267.5 367.4L269 367.1L269.4 366.8L269.9 366.4L270.4 366.1L270.9 365.8L272.4 365.5L272.9 365.2L273.4 364.9L273.9 364.7L274.4 364.4L275.8 364.1L276.3 363.9L276.8 363.6L277.3 363.3L277.8 362.9L279.2 362.6L279.7 362.3L280.2 362L280.7 361.6L281.2 361.3L282.7 360.9L283.1 360.5L283.6 360.1L284.1 359.7L284.6 359.3L286.1 358.9L286.6 358.6L287.1 358.3L287.6 358L288 357.7L289.5 357.3L290 357L290.5 356.6L291 356.3L291.5 355.9L293.4 355.5L293.9 355.1L294.4 354.8L294.9 354.4L296.4 354L296.8 353.6L297.3 353.3L297.8 353.1L298.3 352.8L299.8 352.6L300.3 352.3L300.8 352.1L301.2 351.8L301.7 351.6L303.2 351.4L303.7 351.2L304.2 350.9L304.7 350.8L305.2 350.6L306.6 350.5L307.1 350.4L307.6 350.2L308.1 350.1L308.6 350L310.1 349.9L310.5 349.8L311 349.8L311.5 349.7L312 349.6L313.5 349.4L314 349.2L314.4 349L314.9 348.8L315.4 348.6L316.9 348.4L317.4 348.2L317.9 348L318.4 347.8L318.9 347.5L320.3 347.3L320.8 347.1L321.3 346.9L321.8 346.8L322.3 346.6L323.7 346.6L324.2 346.5L324.7 346.4L325.2 346.3L325.7 346.1L327.2 345.9L327.6 345.7L328.1 345.5L328.6 345.3L329.1 345L330.6 344.8L331.1 344.5L331.6 344.2L332.5 344L334 343.7L334.5 343.4L335 343.1L335.5 342.7L336 342.4L337.4 341.9L337.9 341.4L338.4 340.8L338.9 340.3L339.4 339.7L340.9 339.2L341.4 338.6L341.8 338.1L342.3 337.6L342.8 337L344.3 336.5L344.8 335.9L345.3 335.4L345.8 334.9L347.7 334.3L348.2 333.7L348.7 333.1L349.2 332.5L349.7 331.9L351.1 331.3L351.6 330.7L352.1 330.1L352.6 329.5L353.1 329L354.6 328.4L355 327.9L355.5 327.3L356 326.8L356.5 326.2L358.5 325.8L358.9 325.4L359.4 325L359.9 324.6L361.4 324.4L361.9 324.1L362.4 323.8L362.9 323.5L363.4 323.2L364.8 322.8L365.3 322.4L365.8 321.9L366.3 321.5L366.8 321.1L368.2 320.7L368.7 320.3L369.2 319.9L369.7 319.5L370.2 319.1L371.7 318.7L372.2 318.3L372.6 317.9L373.1 317.5L373.6 317.1L375.6 316.7L376.1 316.4L376.6 316L377.1 315.6L378.5 315.2L379 314.8L379.5 314.4L380 313.9L380.5 313.5L381.9 313.2L382.4 312.8L382.9 312.5L383.4 312.1L383.9 311.8L385.4 311.6L385.9 311.2L386.3 310.9L386.8 310.5L387.3 310.1L388.8 309.6L389.3 309.1L389.8 308.6L390.2 308.1L390.7 307.6L392.2 307.1L392.7 306.6L393.2 306.2L393.7 305.7L394.2 305.2L395.6 304.7L396.1 304.3L396.6 303.9L397.1 303.5L397.6 303.1L399.1 302.7L399.5 302.4L400 302.1L400.5 301.7L402.5 301.4L403 301.1L403.5 300.9L403.9 300.7L404.4 300.5L405.9 300.3L406.4 300.2L406.9 300.1L407.4 299.9L407.9 299.8L409.3 299.6L409.8 299.4L410.3 299.3L410.8 299.2L411.3 299.1L412.8 299L413.2 299L413.7 299L414.2 299L414.7 299L416.2 299L416.7 299L417.1 299L417.6 299.1L418.1 299.1L419.6 299.2L420.1 299.2L420.6 299.3L421.1 299.4L421.6 299.4L423.5 299.4L424 299.4L424.5 299.3L425 299.3L426.4 299.3L426.9 299.3L427.4 299.4L427.9 299.4L428.4 299.5L429.9 299.7L430.4 299.8L430.8 300L431.3 300.2L431.8 300.4L433.8 300.6L434.3 300.8L434.8 301L435.2 301.1L436.7 301.2L437.2 301.4L437.7 301.5L438.2 301.6L438.7 301.7L440.6 301.8L441.1 301.8L441.6 301.8L442.1 301.8L443.6 301.8L444.1 301.7L444.5 301.7L445 301.6L445.5 301.6L447 301.5L447.5 301.4L448 301.3L448.4 301.1L448.9 301L450.4 300.9L450.9 300.7L451.4 300.6L451.9 300.4L452.4 300.2L453.8 300L454.3 299.8L454.8 299.6L455.3 299.4L455.8 299.2L457.2 299L457.7 298.8L458.2 298.6L458.7 298.3L459.2 298.1L460.7 297.8L461.2 297.6L461.7 297.4L462.1 297.1L462.6 296.9L464.1 296.7L464.6 296.5L465.1 296.3L465.6 296.1L466.1 296L467.5 295.9L468 295.7L468.5 295.6L469 295.6L469.5 295.6L471.4 295.6L471.9 295.7L472.4 295.7L472.9 295.7L474.4 295.8L474.9 295.8L475.4 295.9L475.8 295.9L476.3 296.1L477.8 296.2L478.3 296.3L478.8 296.4L479.3 296.6L479.8 296.8L481.2 297L481.7 297.3L482.2 297.6L482.7 298L483.2 298.4L484.6 298.7L485.1 298.9L485.6 299.2L486.1 299.5L486.6 299.7L488.1 300.1L488.6 300.4L489 300.8L489.5 301.2L490 301.6L491.5 302L492 302.3L492.5 302.7L493 303.1L493.4 303.4L494.9 303.6L495.4 303.9L495.9 304.1L496.4 304.4L496.9 304.5L498.3 304.8L498.8 305L499.3 305.3L499.8 305.6L500.3 305.9L501.8 306.1L502.2 306.4L502.7 306.6L503.2 306.8L503.7 306.9L505.2 307.1L505.7 307.3L506.2 307.6L506.6 307.8L507.1 308L508.6 308.3L509.1 308.5L509.6 308.8L510.6 309.1L512 309.4L512.5 309.6L513 309.9L513.5 310.1L514 310.3L515.5 310.5L515.9 310.8L516.4 311L516.9 311.1L517.4 311.3L518.9 311.5L519.4 311.7L519.9 312L520.3 312.3L520.8 312.6L522.3 312.9L522.8 313.2L523.3 313.4L523.8 313.7L524.3 313.9L526.2 314.2L526.7 314.4L527.2 314.7L527.7 315L529.6 315.4L530.1 315.8L530.6 316.2L531.1 316.6L532.6 317.1L533.1 317.5L533.5 317.9L534 318.4L534.5 318.8L536.5 319.2L537 319.6L537.5 320.1L538 320.4L539.4 320.8L539.9 321.1L540.4 321.4L540.9 321.7L541.4 321.9L542.8 322.2L543.3 322.4L543.8 322.6L544.3 322.7L544.8 322.8L546.3 322.9L546.8 323L547.2 323.1L547.7 323.2L548.2 323.3L549.7 323.4L550.2 323.4L550.7 323.4L551.1 323.5L551.6 323.6L553.6 323.7L554.1 323.8L554.6 323.9L555.1 323.9L556.5 323.9L557 323.9L557.5 323.9L558 323.8L558.5 323.8L560 323.7L560.5 323.6L560.9 323.5L561.4 323.4L561.9 323.3L563.4 323.2L563.9 323L564.4 322.9L564.9 322.8L565.3 322.7L566.8 322.6L567.3 322.6L567.8 322.4L568.3 322.3L568.8 322.2L570.2 322.1L570.7 321.9L571.2 321.7L571.7 321.4L572.2 321L573.6 320.7L574.1 320.3L574.6 320L575.1 319.7L577.1 319.4L577.6 319.2L578 318.9L578.5 318.7L579 318.4L580.5 318.1L581 317.8L581.5 317.5L582 317.3L582.5 317.1L583.9 316.9L584.4 316.7L584.9 316.4L585.4 316.2L585.9 316L587.3 315.8L587.8 315.6L588.3 315.4L588.8 315.2L589.3 315L590.8 314.8L591.3 314.6L591.8 314.4L592.2 314.2L592.7 314L594.2 313.9L594.7 313.7L595.2 313.6L595.7 313.4L596.1 313.4L597.6 313.3L598.1 313.2L598.6 313.1L599.1 313.1L599.6 313.1L601.5 313L602 312.9L602.5 312.9L603 312.8L604.5 312.8L605 312.7L605.4 312.6L605.9 312.5L606.4 312.4L607.9 312.2L608.4 312.1L608.9 311.9L609.4 311.6L609.8 311.4L611.8 311.1L612.3 310.7L612.8 310.4L613.3 310.1L614.7 309.8L615.2 309.4L615.7 309.1L616.2 308.7L616.7 308.3L618.1 307.9L619.1 307.5L619.6 307.1L620.1 306.7L621.6 306.3L622.1 305.9L622.6 305.5L623 305.1L623.5 304.6L625 304.2L625.5 303.7L626 303.1L626.5 302.6L627 302.1L628.4 301.6L628.9 301.1L629.4 300.6L629.9 300L630.4 299.5L631.9 298.9L632.3 298.3L632.8 297.7L633.3 297.2L633.8 296.7L635.3 296.3L635.8 295.9L636.2 295.6L636.7 295.2L637.2 295L638.7 294.7L639.2 294.3L639.7 294.1L640.2 293.9L640.6 293.6L642.1 293.3L642.6 292.9L643.1 292.5L643.6 292.1L644.1 291.6L645.5 291.1L646 290.6L646.5 290.1L647 289.7L647.5 289.3L649.5 288.9L649.9 288.5L650.4 288.2L650.9 287.9L652.4 287.6L652.9 287.3L653.4 287L653.9 286.7L654.4 286.4L655.8 286L656.3 285.7L656.8 285.4L657.3 285.1L657.8 284.8L659.2 284.5L659.7 284.2L660.2 283.9L660.7 283.6L661.2 283.3L662.7 283L663.1 282.6L663.6 282.2L664.1 281.8L664.6 281.4L666.1 280.9L666.6 280.4L667.1 279.9L667.5 279.4L668 278.9L669.5 278.4L670 277.8L670.5 277.3L671 276.8L671.5 276.3L672.9 275.9L673.4 275.4L673.9 275L674.4 274.6L674.9 274.2L676.4 273.8L676.8 273.4L677.3 273L677.8 272.6L678.3 272.1L679.8 271.7L680.3 271.3L680.8 270.8L681.2 270.4L681.7 270L683.2 269.5L683.7 269L684.2 268.6L684.7 268.1L685.2 267.8L686.6 267.4L687.1 267L687.6 266.6L688.6 266.2L690 265.8L690.5 265.4L691 265L691.5 264.6L692 264.3L693.5 263.9L694 263.5L694.5 263L694.9 262.5L695.4 262.1L696.9 261.6L697.4 261.1L697.9 260.5L698.4 260L698.9 259.5L700.3 259L700.8 258.6L701.3 258.1L701.8 257.6L702.3 257.1L704.2 256.7L704.7 256.3L705.2 255.8L705.7 255.5L707.6 255.1L708.1 254.8L708.6 254.6L709.1 254.3L710.6 254.1L711.1 253.8L711.6 253.5L712 253.2L712.5 252.9L714.5 252.7L715 252.5L715.5 252.2L716 252L717.4 251.7L717.9 251.3L718.4 251L718.9 250.7L719.4 250.4L720.9 250.1L721.4 249.8L721.8 249.6L722.3 249.3L722.8 249.1L724.3 248.9L724.8 248.7L725.3 248.4L725.8 248.2L726.2 247.9L727.7 247.7L728.2 247.6L728.7 247.4L729.2 247.2L729.7 247.1L731.6 246.9L732.1 246.8L732.6 246.7L733.1 246.5L734.5 246.4L735 246.3L735.5 246.2L736 246.1L736.5 246.1L738 246.1L738.5 246.1L739 246.1L739.4 246.2L739.9 246.2L741.4 246.2L741.9 246.2L742.4 246.2L742.9 246.2L743.4 246.2L744.8 246.2L745.3 246.2L745.8 246.2L746.3 246.3L746.8 246.3L748.2 246.4L748.7 246.5L749.2 246.6L749.7 246.7L751.7 246.8L752.2 247L752.6 247.1L753.1 247.3L753.6 247.4L755.1 247.6L755.6 247.8L756.1 248L756.6 248.1L757 248.2L758.5 248.4L759 248.7L759.5 249L760 249.2L760.5 249.5L761.9 249.7L762.4 250L762.9 250.2L763.4 250.4L763.9 250.6L765.4 250.8L765.9 251L766.3 251.2L766.8 251.4L767.3 251.5L768.8 251.6L769.3 251.7L769.8 251.8L770.2 251.9L770.7 252L772.2 252L772.7 252.1L773.2 252.2L773.7 252.2L774.2 252.2L775.6 252.2L776.1 252.2L776.6 252.1L777.1 252L777.6 251.8L779.5 251.7L780 251.6L780.5 251.4L781 251.2L782.5 251.1L783 250.8L783.5 250.6L784 250.4L784.4 250.2L785.9 250L786.4 249.8L786.9 249.5L787.4 249.1L787.9 248.8L789.3 248.5L789.8 248.3L790.8 248.1L791.3 247.9L792.8 247.6L793.2 247.3L793.7 246.9L794.2 246.6L794.7 246.2L796.2 245.7L796.7 245.2L797.1 244.7L798.1 244.2L799.6 243.7L800.1 243.1L800.6 242.5L801.1 241.9L801.5 241.3L803 240.7L803.5 240L804 239.4L804.5 238.8L805 238.2L806.4 237.7L806.9 237.2L807.4 236.8L807.9 236.3L808.4 235.9L809.9 235.5L810.4 235.1L810.8 234.6L811.3 234.2L811.8 233.8L813.3 233.5L813.8 233.1L814.3 232.8L814.8 232.4L815.2 231.9L816.7 231.4L817.2 230.9L817.7 230.3L818.2 229.7L818.7 229.1L820.1 228.6L820.6 228.1L821.1 227.6L821.6 227.1L822.1 226.6L823.6 226.1L824 225.7L824.5 225.2L825 224.7L825.5 224.3L827.5 223.9L828 223.6L828.5 223.3L828.9 222.9L830.4 222.6L830.9 222.3L831.4 222L831.9 221.7L832.4 221.3L833.8 221.1L834.3 220.8L834.8 220.4L835.3 220L835.8 219.7L837.2 219.3L837.7 218.9L838.2 218.6L838.7 218.2L839.2 217.8L840.7 217.5L841.2 217.2L841.7 216.8L842.1 216.5L842.6 216.2L844.1 216L844.6 215.7L845.1 215.3L845.6 215L846.1 214.6L847.5 214.2L848 213.8L848.5 213.3L849 212.8L849.5 212.3L851 211.8L851.4 211.2L851.9 210.7L852.4 210.2L852.9 209.7L854.4 209.2L854.9 208.7L855.4 208.2L855.8 207.8L856.3 207.4L857.8 207.1L858.3 206.8L858.8 206.5L859.3 206.2L859.8 205.8L861.2 205.5L861.7 205.1L862.2 204.7L862.7 204.3L863.2 203.9L864.6 203.5L865.1 203.1L865.6 202.7L866.1 202.2L866.6 201.8L868.1 201.3L868.5 200.8L869 200.3L870 199.7L871.5 199.1L872 198.4L872.5 197.8L873 197.2L873.4 196.6L874.9 195.9L875.4 195.2L875.9 194.5L876.4 193.8L876.9 193.1L878.3 192.4L878.8 191.6L879.3 190.8L879.8 189.9L880.3 189L881.8 188.1L882.2 187.2L883.2 186.3L883.7 185.5L885.2 184.6L885.7 183.8L886.6 183.1L887.1 182.4L888.6 181.7L889.1 180.9L889.6 180.2L890.6 179.5L892 178.8L892.5 178.2L893 177.5L893.5 176.9L894 176.3L895.9 175.7L896.4 175.2L896.9 174.6L897.4 174L898.9 173.3L899.4 172.7L899.9 172L900.3 171.3L900.8 170.6L902.3 170L902.8 169.3L903.3 168.7L903.8 168L904.2 167.4L905.7 166.7L906.2 166L906.7 165.2L907.2 164.5L907.7 163.7L909.6 162.9L910.1 162.1L910.6 161.4L911.1 160.8L912.6 160.1L913.1 159.4L913.5 158.8L914 158.2L914.5 157.6L916 157.1L916.5 156.6L917 156.1L917.5 155.6L918 155.2L919.4 154.8L919.9 154.6L920.4 154.3L920.9 154.1L921.4 153.8L922.8 153.6L923.3 153.4L923.8 153.1L924.3 152.9L924.8 152.7L926.3 152.4L926.8 152.1L927.2 151.8L927.7 151.5L928.2 151.3L929.7 151.1L930.2 151.1L930.7 151.1L931.1 151.2L931.6 151.3L933.1 151.7L933.6 152.1L934.1 152.2L934.6 152.4L935.1 152.6L936.5 152.7L937 152.8L937.5 153L938 153.2L940 153.5L940.5 153.8L940.9 154L941.4 154.2L941.9 154.4L943.4 154.7L943.9 154.8L944.4 155L944.9 155.3L945.3 155.5L946.8 155.8L947.3 156.2L947.8 156.4L948.3 156.7L948.8 156.9L950.2 156.9L950.7 157L951.2 157.1L951.7 157.1L952.2 157.2L953.6 157.4L954.1 157.5L954.6 157.7L955.1 157.8L955.6 157.9L957.6 158L958 158.1L958.5 158.2L959 158.4L960.5 158.6L961 158.8L961.5 159.1L962 159.3L962.5 159.5L963.9 159.8L964.4 160L964.9 160.2L965.4 160.5L965.9 160.8L967.3 161.1L967.8 161.5L968.3 161.8L969.3 162.1L970.8 162.3L971.3 162.5L971.8 162.7L972.2 162.9L972.7 163.1L974.2 163.2L974.7 163.3L975.2 163.4L975.7 163.5L977.6 163.5L978.1 163.6L978.6 163.7L979.1 163.8L979.6 164L981 164.2L981.5 164.4L982 164.5L982.5 164.7L983 164.9L984.5 165.1L985 165.2L985.4 165.3L985.9 165.5L986.4 165.6L987.9 165.7L988.4 165.8L988.9 166L989.4 166.2L989.8 166.4L991.3 166.7L991.8 167L992.3 167.3L992.8 167.4L993.3 167.5L994.7 167.6L995.2 167.6L995.7 167.6L996.2 167.6L996.7 167.6L998.1 167.6L998.6 167.7L999.1 167.7L999.6 167.7L1000.1 167.7L1001.6 167.6L1002.1 167.5L1002.6 167.4L1003 167.3L1003.5 167.2L1005.5 167.1L1006 167L1006.5 166.8L1007 166.6L1008.4 166.5L1008.9 166.5L1009.4 166.5L1009.9 166.5L1010.4 166.4L1011.9 166.3L1012.3 166.3L1012.8 166.2L1013.3 166.2L1013.8 166L1015.3 165.9L1015.8 165.8L1016.2 165.7L1016.7 165.5L1017.2 165.4L1018.7 165.3L1019.2 165.3L1019.7 165.2L1020.2 165L1020.6 164.9L1022.1 164.8L1022.6 164.8L1023.1 164.7L1023.6 164.7L1024.1 164.8L1025.5 164.9L1026 165L1026.5 165.1L1027 165.1L1027.5 165.1L1029 164.9L1029.5 164.8L1029.9 164.6L1030.4 164.4L1030.9 164.2L1032.4 163.9L1032.9 163.6L1033.4 163.2L1033.9 162.8L1034.3 162.4L1035.8 162L1036.3 161.6L1036.8 161.1L1037.3 160.6L1037.8 160.1L1039.2 159.6L1039.7 159.1L1040.2 158.7L1040.7 158.3L1041.2 158L1042.7 157.7L1043.2 157.2L1043.6 156.8L1044.1 156.4L1044.6 155.9L1046.1 155.4L1046.6 154.9L1047.1 154.4L1048 154L1049.5 153.6L1050 153.1L1050.5 152.7L1051 152.3L1051.5 152L1052.9 151.6L1053.4 151.3L1053.9 150.9L1054.4 150.6L1054.9 150.2L1056.3 149.9L1056.8 149.5L1057.3 149.1L1057.8 148.7L1058.3 148.3L1059.8 147.9L1060.3 147.4L1060.8 146.8L1061.7 146.2L1063.2 145.5L1063.7 144.9L1064.2 144.2L1065.2 143.6L1066.6 143.1L1067.1 142.6L1067.6 142.1L1068.1 141.7L1068.6 141.3L1070 140.9L1070.5 140.5L1071 140.1L1071.5 139.7L1072 139.3L1074 138.9L1074.5 138.5L1074.9 137.9L1075.4 137.2L1076.9 136.3L1077.4 135.6L1077.9 134.9L1078.4 134.3L1078.8 133.7L1080.3 133" fill="none" stroke="#800080" stroke-width="2.08" stroke-linejoin="round" stroke-linecap="butt"/>
<path d="M45.5 25.50H1130.5" stroke="#008000" stroke-opacity="0.7" stroke-width="1.39" stroke-dasharray="8.89 2.22 1.39 2.22" fill="none"/>
<path d="M45.5 274.50H1130.5" stroke="#ff0000" stroke-opacity="0.7" stroke-width="1.39" stroke-dasharray="8.89 2.22 1.39 2.22" fill="none"/>
<path d="M1080.5 456.5V10.5" stroke="#008000" stroke-opacity="0.7" stroke-width="1.39" stroke-dasharray="5.14 2.22" fill="none"/>
</g>
<g fill="none" stroke="#000" stroke-width="1" shape-rendering="crispEdges">
<rect x="45.5" y="10.5" width="1085.0" height="446.0"/>
<rect x="45.5" y="471.5" width="1085.0" height="149.0"/>
</g>
<g fill="#000" shape-rendering="crispEdges">
<rect x="172" y="457" width="1" height="4"/><rect x="172" y="461" width="1" height="1" fill-opacity="0.4"/>
<rect x="172" y="621" width="1" height="4"/><rect x="172" y="625" width="1" height="1" fill-opacity="0.4"/>
<rect x="350" y="457" width="1" height="4"/><rect x="350" y="461" width="1" height="1" fill-opacity="0.4"/>
<rect x="350" y="621" width="1" height="4"/><rect x="350" y="625" width="1" height="1" fill-opacity="0.4"/>
<rect x="529" y="457" width="1" height="4"/><rect x="529" y="461" width="1" height="1" fill-opacity="0.4"/>
<rect x="529" y="621" width="1" height="4"/><rect x="529" y="625" width="1" height="1" fill-opacity="0.4"/>
<rect x="707" y="457" width="1" height="4"/><rect x="707" y="461" width="1" height="1" fill-opacity="0.4"/>
<rect x="707" y="621" width="1" height="4"/><rect x="707" y="625" width="1" height="1" fill-opacity="0.4"/>
<rect x="886" y="457" width="1" height="4"/><rect x="886" y="461" width="1" height="1" fill-opacity="0.4"/>
<rect x="886" y="621" width="1" height="4"/><rect x="886" y="625" width="1" height="1" fill-opacity="0.4"/>
<rect x="1065" y="457" width="1" height="4"/><rect x="1065" y="461" width="1" height="1" fill-opacity="0.4"/>
<rect x="1065" y="621" width="1" height="4"/><rect x="1065" y="625" width="1" height="1" fill-opacity="0.4"/>
<rect x="41" y="53" width="4" height="1"/><rect x="40" y="53" width="1" height="1" fill-opacity="0.4"/>
<rect x="41" y="105" width="4" height="1"/><rect x="40" y="105" width="1" height="1" fill-opacity="0.4"/>
<rect x="41" y="157" width="4" height="1"/><rect x="40" y="157" width="1" height="1" fill-opacity="0.4"/>
<rect x="41" y="209" width="4" height="1"/><rect x="40" y="209" width="1" height="1" fill-opacity="0.4"/>
<rect x="41" y="260" width="4" height="1"/><rect x="40" y="260" width="1" height="1" fill-opacity="0.4"/>
<rect x="41" y="312" width="4" height="1"/><rect x="40" y="312" width="1" height="1" fill-opacity="0.4"/>
<rect x="41" y="364" width="4" height="1"/><rect x="40" y="364" width="1" height="1" fill-opacity="0.4"/>
<rect x="41" y="416" width="4" height="1"/><rect x="40" y="416" width="1" height="1" fill-opacity="0.4"/>
<rect x="41" y="498" width="4" height="1"/><rect x="40" y="498" width="1" height="1" fill-opacity="0.4"/>
<rect x="41" y="539" width="4" height="1"/><rect x="40" y="539" width="1" height="1" fill-opacity="0.4"/>
<rect x="41" y="579" width="4" height="1"/><rect x="40" y="579" width="1" height="1" fill-opacity="0.4"/>
<rect x="41" y="620" width="4" height="1"/><rect x="40" y="620" width="1" height="1" fill-opacity="0.4"/>
</g>
<text x="35.2" y="58" font-size="12.9" fill="#000" text-anchor="end" textLength="24.0" lengthAdjust="spacingAndGlyphs" xml:space="preserve">275</text>
<text x="35.2" y="110" font-size="12.9" fill="#000" text-anchor="end" textLength="24.0" lengthAdjust="spacingAndGlyphs" xml:space="preserve">250</text>
<text x="35.2" y="162" font-size="12.9" fill="#000" text-anchor="end" textLength="24.0" lengthAdjust="spacingAndGlyphs" xml:space="preserve">225</text>
<text x="35.2" y="214" font-size="12.9" fill="#000" text-anchor="end" textLength="24.0" lengthAdjust="spacingAndGlyphs" xml:space="preserve">200</text>
<text x="35.2" y="265" font-size="12.9" fill="#000" text-anchor="end" textLength="24.0" lengthAdjust="spacingAndGlyphs" xml:space="preserve">175</text>
<text x="35.2" y="317" font-size="12.9" fill="#000" text-anchor="end" textLength="24.0" lengthAdjust="spacingAndGlyphs" xml:space="preserve">150</text>
<text x="35.2" y="369" font-size="12.9" fill="#000" text-anchor="end" textLength="24.0" lengthAdjust="spacingAndGlyphs" xml:space="preserve">125</text>
<text x="35.2" y="421" font-size="12.9" fill="#000" text-anchor="end" textLength="24.0" lengthAdjust="spacingAndGlyphs" xml:space="preserve">100</text>
<text x="35.3" y="503" font-size="12.9" fill="#000" text-anchor="end" textLength="8.0" lengthAdjust="spacingAndGlyphs" xml:space="preserve">6</text>
<text x="35.3" y="544" font-size="12.9" fill="#000" text-anchor="end" textLength="8.0" lengthAdjust="spacingAndGlyphs" xml:space="preserve">4</text>
<text x="35.3" y="584" font-size="12.9" fill="#000" text-anchor="end" textLength="8.0" lengthAdjust="spacingAndGlyphs" xml:space="preserve">2</text>
<text x="35.3" y="625" font-size="12.9" fill="#000" text-anchor="end" textLength="8.0" lengthAdjust="spacingAndGlyphs" xml:space="preserve">0</text>
<text x="171.5" y="639" font-size="12.9" fill="#000" text-anchor="middle" textLength="53" lengthAdjust="spacingAndGlyphs" xml:space="preserve">2021-01</text>
<text x="349.5" y="639" font-size="12.9" fill="#000" text-anchor="middle" textLength="53" lengthAdjust="spacingAndGlyphs" xml:space="preserve">2022-01</text>
<text x="528.5" y="639" font-size="12.9" fill="#000" text-anchor="middle" textLength="53" lengthAdjust="spacingAndGlyphs" xml:space="preserve">2023-01</text>
<text x="706.5" y="639" font-size="12.9" fill="#000" text-anchor="middle" textLength="53" lengthAdjust="spacingAndGlyphs" xml:space="preserve">2024-01</text>
<text x="885.5" y="639" font-size="12.9" fill="#000" text-anchor="middle" textLength="53" lengthAdjust="spacingAndGlyphs" xml:space="preserve">2025-01</text>
<text x="1064.5" y="639" font-size="12.9" fill="#000" text-anchor="middle" textLength="53" lengthAdjust="spacingAndGlyphs" xml:space="preserve">2026-01</text>
<text x="45.6" y="466.9" font-size="12.9" fill="#000" textLength="22" lengthAdjust="spacingAndGlyphs" xml:space="preserve">1e6</text>
<text x="19" y="547.3" font-size="13.4" fill="#000" text-anchor="middle" textLength="43.4" lengthAdjust="spacingAndGlyphs" transform="rotate(-90 19 547.3)" xml:space="preserve">Volume</text>
<rect x="930.6" y="349" width="182.0" height="88.6" rx="3.8" ry="3.8" fill="#fff" fill-opacity="0.9" stroke="#008000" stroke-opacity="0.92" stroke-width="1.3"/>
<text x="1108.0" y="363.6" font-size="13.9" fill="#0a850a" text-anchor="end" textLength="160.4" lengthAdjust="spacingAndGlyphs" xml:space="preserve">263.89 (+4.83 +1.87%)</text>
<text x="1107.5" y="380.2" font-size="13.9" fill="#0a850a" text-anchor="end" textLength="108.3" lengthAdjust="spacingAndGlyphs" xml:space="preserve">168.69~288.61</text>
<text x="1107.7" y="396.2" font-size="13.9" fill="#0a850a" text-anchor="end" textLength="164.1" lengthAdjust="spacingAndGlyphs" xml:space="preserve">260.33/268.21/236.68</text>
<text x="1108.1" y="412.5" font-size="13.9" fill="#0a850a" text-anchor="end" textLength="127.3" lengthAdjust="spacingAndGlyphs" xml:space="preserve">2026-02-02 05:00</text>
<text x="934.7" y="430.7" font-size="13.9" fill="#0a850a" textLength="45.3" lengthAdjust="spacingAndGlyphs" xml:space="preserve">-0.65/</text>
<text x="980.6" y="430.7" font-size="14.6" fill="#0a850a" textLength="29.2" lengthAdjust="spacingAndGlyphs" style="font-family:'Liberation Sans','Noto Sans CJK SC',sans-serif" xml:space="preserve">偏空</text>
<text x="1108.0" y="430.7" font-size="13.9" fill="#0a850a" text-anchor="end" textLength="97.3" lengthAdjust="spacingAndGlyphs" xml:space="preserve">/+0.42/+0.51</text>
<rect x="52.5" y="17.4" width="107.6" height="118.8" rx="2.8" ry="2.8" fill="#fff" fill-opacity="0.8" stroke="#ccc" stroke-opacity="0.8" stroke-width="1.1"/>
<path d="M56 27H86" stroke="#000" stroke-width="2.08" fill="none"/>
<path d="M56 47H86" stroke="#008000" stroke-width="2.08" fill="none"/>
<path d="M56 68H86" stroke="#ff0000" stroke-width="2.08" fill="none"/>
<path d="M56 86H86" stroke="#800080" stroke-width="2.08" fill="none"/>
<path d="M71.40 96.63 L61.58 116.27 L81.22 116.27Z" fill="#008000" stroke="#008000" stroke-width="1.39" stroke-linejoin="round"/>
<path d="M61.58 115.73 L81.22 115.73 L71.40 135.37Z" fill="#ff0000" stroke="#ff0000" stroke-width="1.39" stroke-linejoin="round"/>
<text x="97.4" y="32" font-size="12.2" fill="#000" textLength="31.9" lengthAdjust="spacingAndGlyphs" xml:space="preserve">Close</text>
<text x="96.8" y="52" font-size="12.2" fill="#000" textLength="37.2" lengthAdjust="spacingAndGlyphs" xml:space="preserve">MA50[</text>
<text x="134.3" y="52.4" font-size="14.4" fill="#000" textLength="14.6" lengthAdjust="spacingAndGlyphs" style="font-family:'Liberation Sans','Noto Sans CJK SC',sans-serif" xml:space="preserve">买</text>
<text x="149.3" y="52" font-size="12.2" fill="#000" xml:space="preserve">]</text>
<text x="96.8" y="73" font-size="12.2" fill="#000" textLength="37.2" lengthAdjust="spacingAndGlyphs" xml:space="preserve">MA25[</text>
<text x="134.3" y="73.2" font-size="14.4" fill="#000" textLength="14.6" lengthAdjust="spacingAndGlyphs" style="font-family:'Liberation Sans','Noto Sans CJK SC',sans-serif" xml:space="preserve">卖</text>
<text x="149.3" y="73" font-size="12.2" fill="#000" xml:space="preserve">]</text>
<text x="96.8" y="92" font-size="12.2" fill="#000" textLength="41.5" lengthAdjust="spacingAndGlyphs" xml:space="preserve">MA200</text>
<text x="96.9" y="110" font-size="12.2" fill="#000" textLength="19.8" lengthAdjust="spacingAndGlyphs" xml:space="preserve">Buy</text>
<text x="97.6" y="129" font-size="12.2" fill="#000" textLength="20.5" lengthAdjust="spacingAndGlyphs" xml:space="preserve">Sell</text>
<text x="45.3" y="675.7" font-size="16.3" fill="#000" textLength="36.6" lengthAdjust="spacingAndGlyphs" xml:space="preserve">AAPL</text>
<text x="85.85" y="676.8" font-size="16.3" fill="#000" textLength="65" lengthAdjust="spacingAndGlyphs" style="font-family:'Liberation Sans','Noto Sans CJK SC',sans-serif" xml:space="preserve">交易次数</text>
<text x="153.6" y="675.7" font-size="16.3" fill="#000" xml:space="preserve">:</text>
<text x="163.4" y="675.7" font-size="16.3" fill="#000" textLength="8.4" lengthAdjust="spacingAndGlyphs" xml:space="preserve">5</text>
<text x="45.9" y="696.2" font-size="16.3" fill="#000" textLength="97.5" lengthAdjust="spacingAndGlyphs" style="font-family:'Liberation Sans','Noto Sans CJK SC',sans-serif" xml:space="preserve">策略总收益率</text>
<text x="145.1" y="695.9" font-size="16.3" fill="#000" xml:space="preserve">:</text>
<text x="155.5" y="695.9" font-size="16.3" fill="#000" textLength="65.4" lengthAdjust="spacingAndGlyphs" xml:space="preserve">158.10%</text>
<text x="45.9" y="716.1" font-size="16.3" fill="#000" textLength="97.5" lengthAdjust="spacingAndGlyphs" style="font-family:'Liberation Sans','Noto Sans CJK SC',sans-serif" xml:space="preserve">长期持有收益</text>
<text x="145.1" y="715.6" font-size="16.3" fill="#000" xml:space="preserve">:</text>
<text x="155.5" y="715.6" font-size="16.3" fill="#000" textLength="65.4" lengthAdjust="spacingAndGlyphs" xml:space="preserve">139.84%</text>
<text x="45.9" y="735.4" font-size="16.3" fill="#000" textLength="65" lengthAdjust="spacingAndGlyphs" style="font-family:'Liberation Sans','Noto Sans CJK SC',sans-serif" xml:space="preserve">交易记录</text>
<text x="111.4" y="735.0" font-size="16.3" fill="#000" xml:space="preserve">:</text>
<text x="55.8" y="752.0" font-size="16.3" fill="#000" textLength="63.7" lengthAdjust="spacingAndGlyphs" xml:space="preserve">Buy Date</text>
<text x="131.3" y="752.0" font-size="16.3" fill="#000" textLength="65.5" lengthAdjust="spacingAndGlyphs" xml:space="preserve">Buy Price</text>
<text x="207.9" y="752.0" font-size="16.3" fill="#000" textLength="65.0" lengthAdjust="spacingAndGlyphs" xml:space="preserve">Sell Date</text>
<text x="284.8" y="752.0" font-size="16.3" fill="#000" textLength="66.2" lengthAdjust="spacingAndGlyphs" xml:space="preserve">Sell Price</text>
<text x="362.6" y="752.0" font-size="16.3" fill="#000" textLength="93.6" lengthAdjust="spacingAndGlyphs" xml:space="preserve">Holding Days</text>
<text x="467.5" y="752.0" font-size="16.3" fill="#000" textLength="53.2" lengthAdjust="spacingAndGlyphs" xml:space="preserve">Profit %</text>
<text x="45.8" y="769.6" font-size="16.3" fill="#000" textLength="88.5" lengthAdjust="spacingAndGlyphs" xml:space="preserve">2020-10-06</text>
<text x="213.5" y="769.6" font-size="16.3" fill="#000" text-anchor="end" textLength="53.2" lengthAdjust="spacingAndGlyphs" xml:space="preserve">110.03</text>
<text x="220.2" y="769.6" font-size="16.3" fill="#000" textLength="88.1" lengthAdjust="spacingAndGlyphs" xml:space="preserve">2021-08-10</text>
<text x="393.2" y="769.6" font-size="16.3" fill="#000" text-anchor="end" textLength="53.6" lengthAdjust="spacingAndGlyphs" xml:space="preserve">142.38</text>
<text x="478.0" y="769.6" font-size="16.3" fill="#000" text-anchor="end" textLength="28.4" lengthAdjust="spacingAndGlyphs" xml:space="preserve">308</text>
<text x="547.9" y="769.6" font-size="16.3" fill="#000" text-anchor="end" textLength="43.9" lengthAdjust="spacingAndGlyphs" xml:space="preserve">29.40</text>
<text x="45.8" y="786.8" font-size="16.3" fill="#000" textLength="88.5" lengthAdjust="spacingAndGlyphs" xml:space="preserve">2021-09-17</text>
<text x="213.5" y="786.8" font-size="16.3" fill="#000" text-anchor="end" textLength="53.2" lengthAdjust="spacingAndGlyphs" xml:space="preserve">142.90</text>
<text x="220.2" y="786.8" font-size="16.3" fill="#000" textLength="88.1" lengthAdjust="spacingAndGlyphs" xml:space="preserve">2022-01-12</text>
<text x="393.2" y="786.8" font-size="16.3" fill="#000" text-anchor="end" textLength="53.6" lengthAdjust="spacingAndGlyphs" xml:space="preserve">171.90</text>
<text x="478.0" y="786.8" font-size="16.3" fill="#000" text-anchor="end" textLength="28.4" lengthAdjust="spacingAndGlyphs" xml:space="preserve">117</text>
<text x="547.9" y="786.8" font-size="16.3" fill="#000" text-anchor="end" textLength="43.9" lengthAdjust="spacingAndGlyphs" xml:space="preserve">20.29</text>
<text x="45.8" y="804.0" font-size="16.3" fill="#000" textLength="88.5" lengthAdjust="spacingAndGlyphs" xml:space="preserve">2022-01-19</text>
<text x="213.5" y="804.0" font-size="16.3" fill="#000" text-anchor="end" textLength="53.2" lengthAdjust="spacingAndGlyphs" xml:space="preserve">162.81</text>
<text x="220.2" y="804.0" font-size="16.3" fill="#000" textLength="88.1" lengthAdjust="spacingAndGlyphs" xml:space="preserve">2024-07-24</text>
<text x="393.2" y="804.0" font-size="16.3" fill="#000" text-anchor="end" textLength="53.6" lengthAdjust="spacingAndGlyphs" xml:space="preserve">217.13</text>
<text x="478.0" y="804.0" font-size="16.3" fill="#000" text-anchor="end" textLength="28.4" lengthAdjust="spacingAndGlyphs" xml:space="preserve">916</text>
<text x="547.9" y="804.0" font-size="16.3" fill="#000" text-anchor="end" textLength="43.9" lengthAdjust="spacingAndGlyphs" xml:space="preserve">33.36</text>
<text x="45.8" y="821.4" font-size="16.3" fill="#000" textLength="88.5" lengthAdjust="spacingAndGlyphs" xml:space="preserve">2024-08-05</text>
<text x="213.5" y="821.4" font-size="16.3" fill="#000" text-anchor="end" textLength="53.2" lengthAdjust="spacingAndGlyphs" xml:space="preserve">207.84</text>
<text x="220.2" y="821.4" font-size="16.3" fill="#000" textLength="88.1" lengthAdjust="spacingAndGlyphs" xml:space="preserve">2025-11-20</text>
<text x="393.2" y="821.4" font-size="16.3" fill="#000" text-anchor="end" textLength="53.6" lengthAdjust="spacingAndGlyphs" xml:space="preserve">266.40</text>
<text x="478.0" y="821.4" font-size="16.3" fill="#000" text-anchor="end" textLength="28.4" lengthAdjust="spacingAndGlyphs" xml:space="preserve">472</text>
<text x="547.9" y="821.4" font-size="16.3" fill="#000" text-anchor="end" textLength="43.9" lengthAdjust="spacingAndGlyphs" xml:space="preserve">28.17</text>
<text x="45.8" y="838.6" font-size="16.3" fill="#000" textLength="88.5" lengthAdjust="spacingAndGlyphs" xml:space="preserve">2025-12-31</text>
<text x="213.5" y="838.6" font-size="16.3" fill="#000" text-anchor="end" textLength="53.2" lengthAdjust="spacingAndGlyphs" xml:space="preserve">272.04</text>
<text x="220.2" y="838.6" font-size="16.3" fill="#000" textLength="88.1" lengthAdjust="spacingAndGlyphs" xml:space="preserve">2026-02-02</text>
<text x="393.2" y="838.6" font-size="16.3" fill="#000" text-anchor="end" textLength="53.6" lengthAdjust="spacingAndGlyphs" xml:space="preserve">263.90</text>
<text x="454.8" y="838.6" font-size="16.3" fill="#000" textLength="17.9" lengthAdjust="spacingAndGlyphs" xml:space="preserve">33</text>
<text x="498.7" y="838.6" font-size="16.3" fill="#000" textLength="39.5" lengthAdjust="spacingAndGlyphs" xml:space="preserve">-2.99</text>
</svg>
</body></html>
